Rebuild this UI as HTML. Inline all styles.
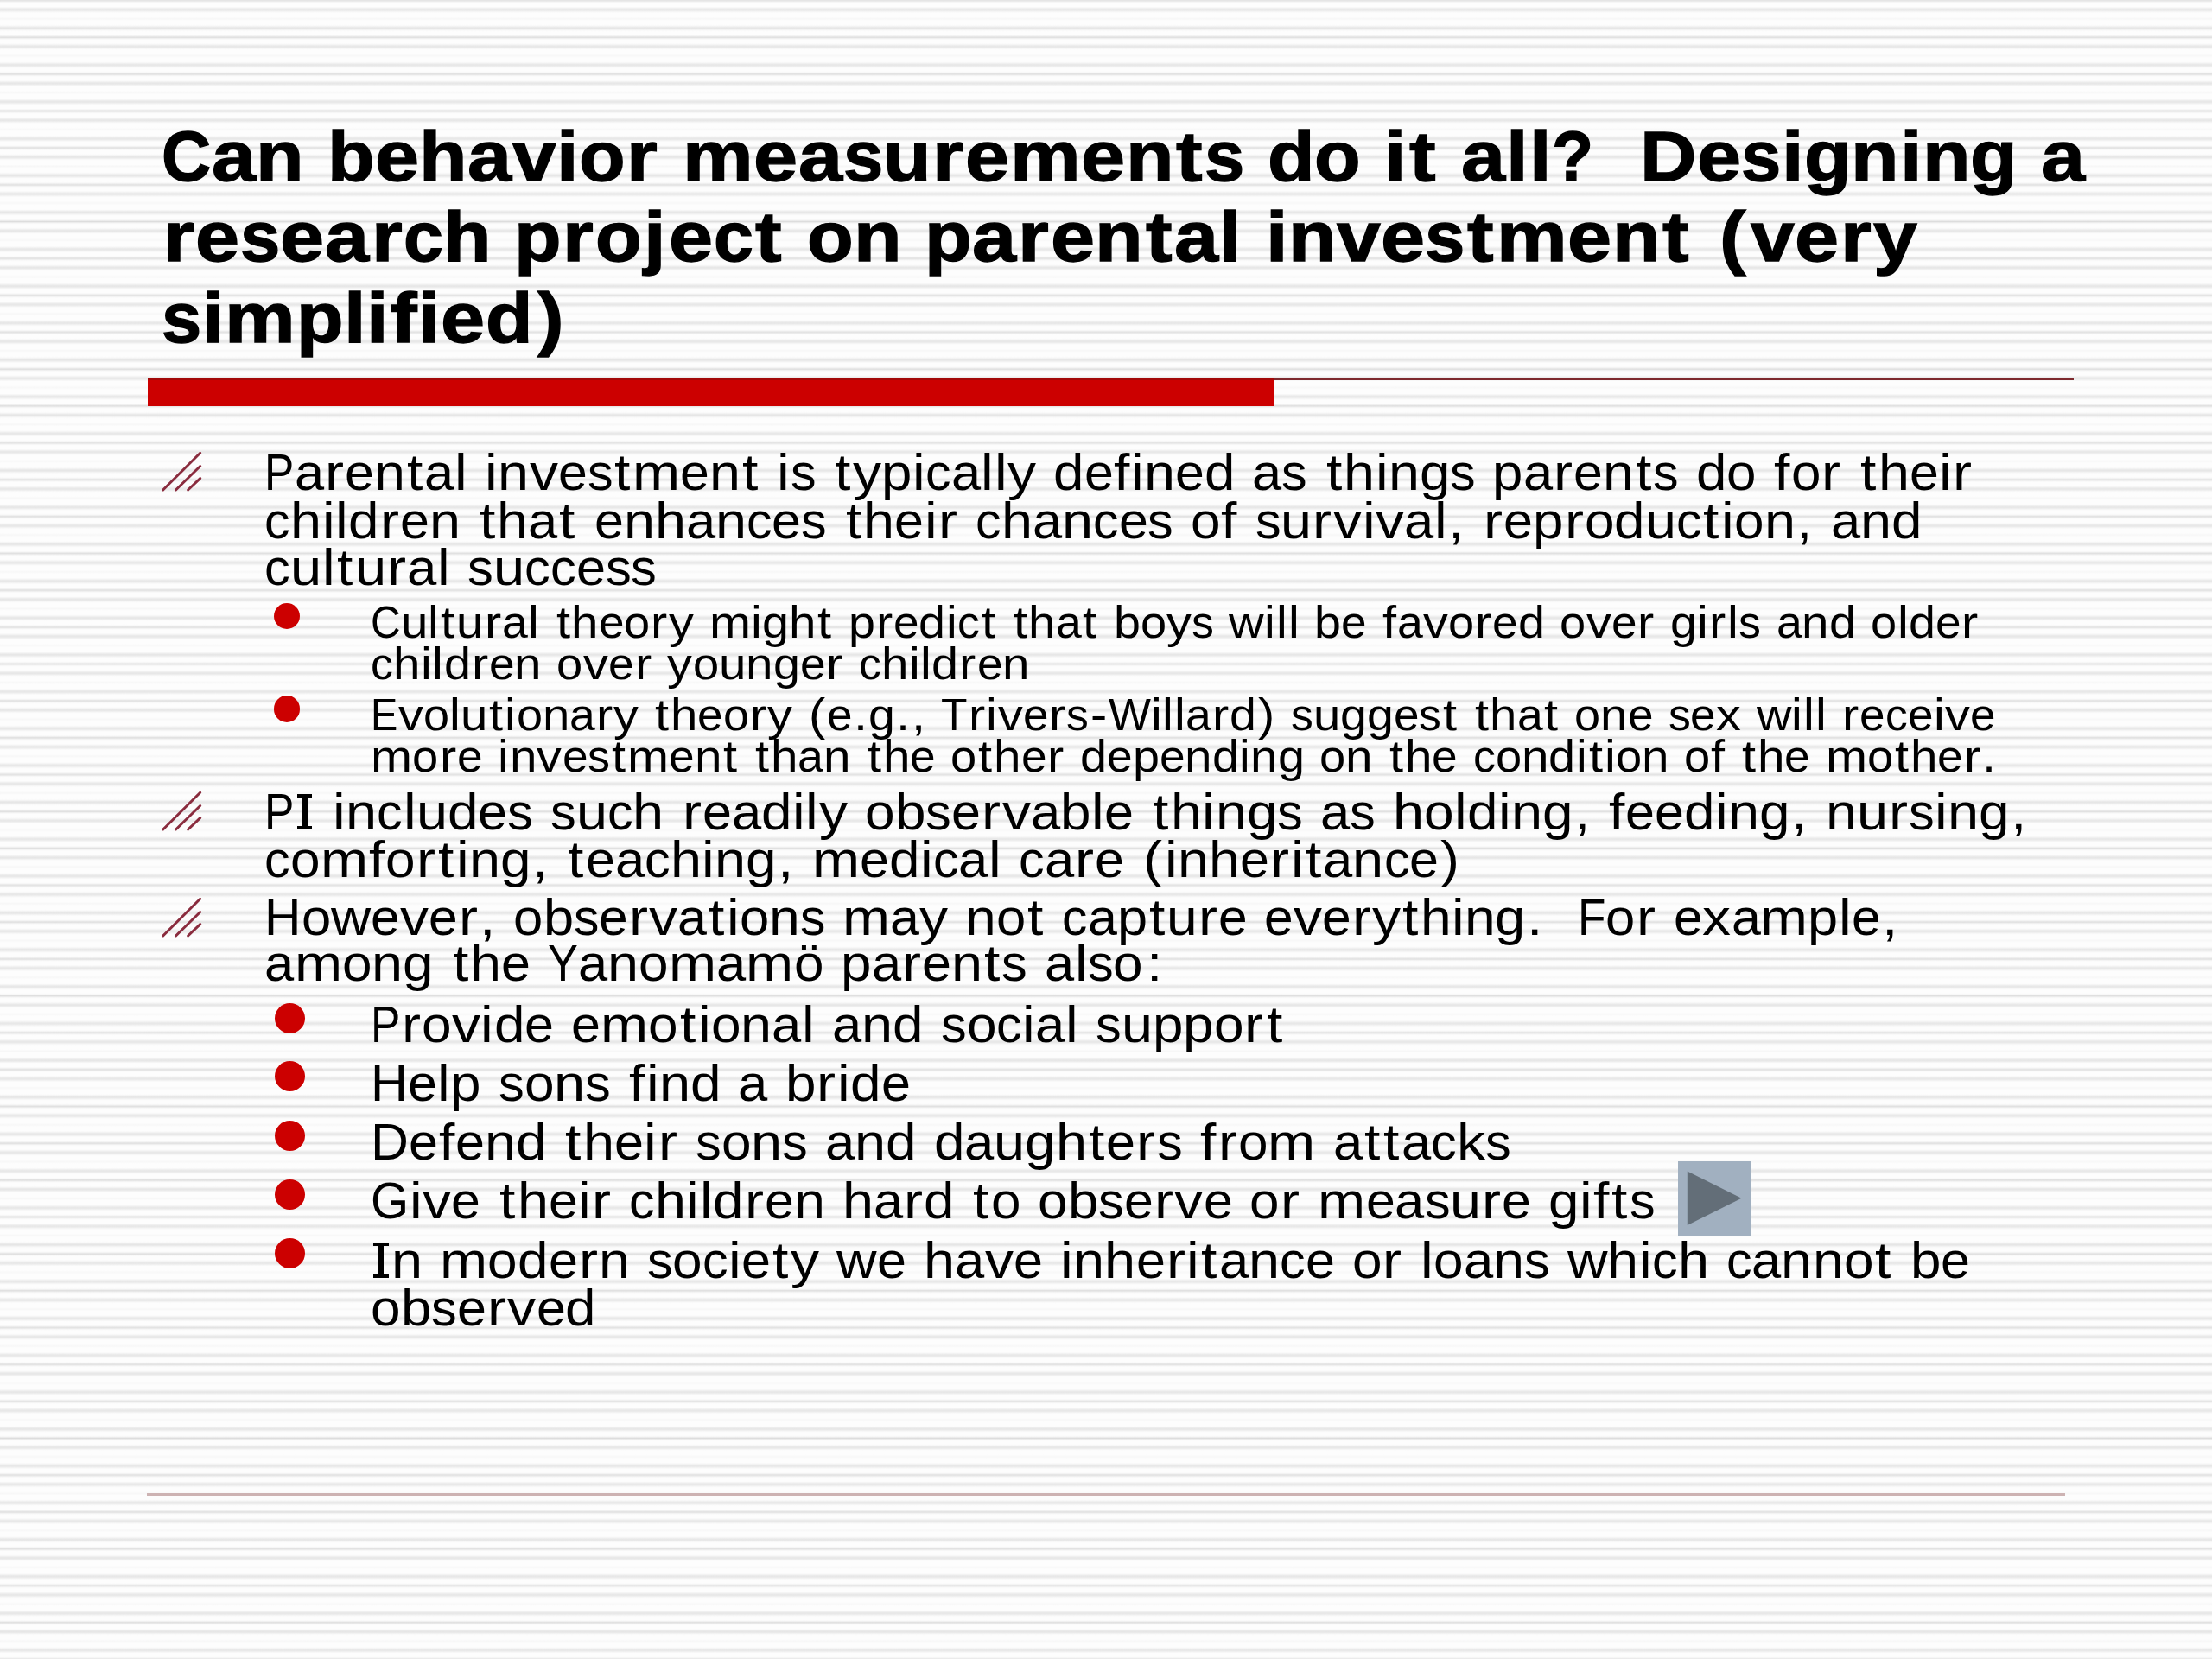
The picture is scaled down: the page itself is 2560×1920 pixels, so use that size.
<!DOCTYPE html>
<html><head><meta charset="utf-8"><style>
html,body{margin:0;padding:0}
body{width:2560px;height:1920px;position:relative;overflow:hidden;background-color:#fdfdfd;
background-image:repeating-linear-gradient(to bottom,#dcdcdc 0px,#ececec 1px,#f8f8f8 2px,#fdfdfd 3px,#fdfdfd 7.17px,#f3f3f3 8.67px,#eaeaea 9.67px,#e6e6e6 10.667px,#eaeaea 11.67px,#f3f3f3 12.67px,#fdfdfd 14.17px,#fdfdfd 19.33px,#f7f7f7 21.333px,#fdfdfd 23.33px,#fdfdfd 28.5px,#f3f3f3 30px,#eaeaea 31px,#e6e6e6 32px,#eaeaea 33px,#f3f3f3 34px,#fdfdfd 35.5px,#fdfdfd 39.667px,#f8f8f8 40.667px,#ececec 41.667px,#dcdcdc 42.667px);
background-position:0 0.5px;
font-family:"Liberation Sans",sans-serif;color:#000}
.t{position:absolute;white-space:pre;transform-origin:0 0;line-height:1}
.b{font-weight:bold;-webkit-text-stroke:1.3px #000}
.h{position:absolute;overflow:visible}
.d{position:absolute;border-radius:50%;background:#cc0000}
.r{position:absolute}
.k{background:#000}
i{font-style:normal}
</style></head><body><div id="w" style="position:absolute;left:0;top:0;width:2560px;height:1920px">
<div class="r" style="left:170.5px;top:437px;width:2229.5px;height:3px;background:#7e2a2e"></div>
<div class="r" style="left:170.7px;top:438px;width:1303.6px;height:32px;background:#cc0000;border-top:2px solid #a30808;box-sizing:border-box"></div>
<div class="r" style="left:170.4px;top:1728px;width:2219.8px;height:2.7px;background:#cdb3b3"></div>
<i class="t b" style="left:187.0px;top:139.9px;font-size:82px;transform:scaleX(0.967)">C</i>
<i class="t b" style="left:244.8px;top:139.9px;font-size:82px;transform:scaleX(1.120)">a</i>
<i class="t b" style="left:296.4px;top:139.9px;font-size:82px;transform:scaleX(1.109)">n</i>
<i class="t b" style="left:378.7px;top:139.9px;font-size:82px;transform:scaleX(1.089)">b</i>
<i class="t b" style="left:433.6px;top:139.9px;font-size:82px;transform:scaleX(1.120)">e</i>
<i class="t b" style="left:485.1px;top:139.9px;font-size:82px;transform:scaleX(1.109)">h</i>
<i class="t b" style="left:541.2px;top:139.9px;font-size:82px;transform:scaleX(1.120)">a</i>
<i class="t b" style="left:592.8px;top:139.9px;font-size:82px;transform:scaleX(1.112)">v</i>
<i class="t b" style="left:644.1px;top:139.9px;font-size:82px;transform:scaleX(1.120)">i</i>
<i class="t b" style="left:670.2px;top:139.9px;font-size:82px;transform:scaleX(1.070)">o</i>
<i class="t b" style="left:725.3px;top:139.9px;font-size:82px;transform:scaleX(1.120)">r</i>
<i class="t b" style="left:789.7px;top:139.9px;font-size:82px;transform:scaleX(1.120)">m</i>
<i class="t b" style="left:872.2px;top:139.9px;font-size:82px;transform:scaleX(1.120)">e</i>
<i class="t b" style="left:924.2px;top:139.9px;font-size:82px;transform:scaleX(1.120)">a</i>
<i class="t b" style="left:975.8px;top:139.9px;font-size:82px;transform:scaleX(1.015)">s</i>
<i class="t b" style="left:1022.1px;top:139.9px;font-size:82px;transform:scaleX(1.109)">u</i>
<i class="t b" style="left:1079.2px;top:139.9px;font-size:82px;transform:scaleX(1.120)">r</i>
<i class="t b" style="left:1116.8px;top:139.9px;font-size:82px;transform:scaleX(1.120)">e</i>
<i class="t b" style="left:1168.7px;top:139.9px;font-size:82px;transform:scaleX(1.120)">m</i>
<i class="t b" style="left:1251.2px;top:139.9px;font-size:82px;transform:scaleX(1.120)">e</i>
<i class="t b" style="left:1302.7px;top:139.9px;font-size:82px;transform:scaleX(1.109)">n</i>
<i class="t b" style="left:1360.7px;top:139.9px;font-size:82px;transform:scaleX(1.120)">t</i>
<i class="t b" style="left:1393.8px;top:139.9px;font-size:82px;transform:scaleX(1.015)">s</i>
<i class="t b" style="left:1466.8px;top:139.9px;font-size:82px;transform:scaleX(1.089)">d</i>
<i class="t b" style="left:1521.4px;top:139.9px;font-size:82px;transform:scaleX(1.070)">o</i>
<i class="t b" style="left:1602.3px;top:139.9px;font-size:82px;transform:scaleX(1.120)">i</i>
<i class="t b" style="left:1630.9px;top:139.9px;font-size:82px;transform:scaleX(1.120)">t</i>
<i class="t b" style="left:1691.2px;top:139.9px;font-size:82px;transform:scaleX(1.120)">a</i>
<i class="t b" style="left:1743.4px;top:139.9px;font-size:82px;transform:scaleX(1.120)">l</i>
<i class="t b" style="left:1770.1px;top:139.9px;font-size:82px;transform:scaleX(1.120)">l</i>
<i class="t b" style="left:1796.2px;top:139.9px;font-size:82px;transform:scaleX(0.961)">?</i>
<i class="t b" style="left:1897.7px;top:139.9px;font-size:82px;transform:scaleX(1.104)">D</i>
<i class="t b" style="left:1963.5px;top:139.9px;font-size:82px;transform:scaleX(1.120)">e</i>
<i class="t b" style="left:2014.9px;top:139.9px;font-size:82px;transform:scaleX(1.015)">s</i>
<i class="t b" style="left:2061.8px;top:139.9px;font-size:82px;transform:scaleX(1.120)">i</i>
<i class="t b" style="left:2087.9px;top:139.9px;font-size:82px;transform:scaleX(1.089)">g</i>
<i class="t b" style="left:2142.4px;top:139.9px;font-size:82px;transform:scaleX(1.109)">n</i>
<i class="t b" style="left:2198.6px;top:139.9px;font-size:82px;transform:scaleX(1.120)">i</i>
<i class="t b" style="left:2224.7px;top:139.9px;font-size:82px;transform:scaleX(1.109)">n</i>
<i class="t b" style="left:2280.3px;top:139.9px;font-size:82px;transform:scaleX(1.089)">g</i>
<i class="t b" style="left:2362.0px;top:139.9px;font-size:82px;transform:scaleX(1.120)">a</i>
<i class="t b" style="left:188.5px;top:233.0px;font-size:82px;transform:scaleX(1.120)">r</i>
<i class="t b" style="left:226.2px;top:233.0px;font-size:82px;transform:scaleX(1.120)">e</i>
<i class="t b" style="left:277.7px;top:233.0px;font-size:82px;transform:scaleX(1.016)">s</i>
<i class="t b" style="left:324.4px;top:233.0px;font-size:82px;transform:scaleX(1.120)">e</i>
<i class="t b" style="left:376.4px;top:233.0px;font-size:82px;transform:scaleX(1.120)">a</i>
<i class="t b" style="left:429.6px;top:233.0px;font-size:82px;transform:scaleX(1.120)">r</i>
<i class="t b" style="left:466.9px;top:233.0px;font-size:82px;transform:scaleX(1.007)">c</i>
<i class="t b" style="left:512.8px;top:233.0px;font-size:82px;transform:scaleX(1.110)">h</i>
<i class="t b" style="left:595.2px;top:233.0px;font-size:82px;transform:scaleX(1.090)">p</i>
<i class="t b" style="left:651.3px;top:233.0px;font-size:82px;transform:scaleX(1.120)">r</i>
<i class="t b" style="left:688.6px;top:233.0px;font-size:82px;transform:scaleX(1.071)">o</i>
<i class="t b" style="left:745.2px;top:233.0px;font-size:82px;transform:scaleX(1.120)">j</i>
<i class="t b" style="left:774.1px;top:233.0px;font-size:82px;transform:scaleX(1.120)">e</i>
<i class="t b" style="left:825.6px;top:233.0px;font-size:82px;transform:scaleX(1.007)">c</i>
<i class="t b" style="left:874.1px;top:233.0px;font-size:82px;transform:scaleX(1.120)">t</i>
<i class="t b" style="left:933.9px;top:233.0px;font-size:82px;transform:scaleX(1.071)">o</i>
<i class="t b" style="left:987.5px;top:233.0px;font-size:82px;transform:scaleX(1.110)">n</i>
<i class="t b" style="left:1069.9px;top:233.0px;font-size:82px;transform:scaleX(1.090)">p</i>
<i class="t b" style="left:1125.0px;top:233.0px;font-size:82px;transform:scaleX(1.120)">a</i>
<i class="t b" style="left:1178.2px;top:233.0px;font-size:82px;transform:scaleX(1.120)">r</i>
<i class="t b" style="left:1215.9px;top:233.0px;font-size:82px;transform:scaleX(1.120)">e</i>
<i class="t b" style="left:1267.4px;top:233.0px;font-size:82px;transform:scaleX(1.110)">n</i>
<i class="t b" style="left:1325.5px;top:233.0px;font-size:82px;transform:scaleX(1.120)">t</i>
<i class="t b" style="left:1359.1px;top:233.0px;font-size:82px;transform:scaleX(1.120)">a</i>
<i class="t b" style="left:1411.4px;top:233.0px;font-size:82px;transform:scaleX(1.120)">l</i>
<i class="t b" style="left:1464.8px;top:233.0px;font-size:82px;transform:scaleX(1.120)">i</i>
<i class="t b" style="left:1490.9px;top:233.0px;font-size:82px;transform:scaleX(1.110)">n</i>
<i class="t b" style="left:1546.5px;top:233.0px;font-size:82px;transform:scaleX(1.113)">v</i>
<i class="t b" style="left:1597.7px;top:233.0px;font-size:82px;transform:scaleX(1.120)">e</i>
<i class="t b" style="left:1649.2px;top:233.0px;font-size:82px;transform:scaleX(1.016)">s</i>
<i class="t b" style="left:1698.0px;top:233.0px;font-size:82px;transform:scaleX(1.120)">t</i>
<i class="t b" style="left:1731.6px;top:233.0px;font-size:82px;transform:scaleX(1.120)">m</i>
<i class="t b" style="left:1814.2px;top:233.0px;font-size:82px;transform:scaleX(1.120)">e</i>
<i class="t b" style="left:1865.7px;top:233.0px;font-size:82px;transform:scaleX(1.110)">n</i>
<i class="t b" style="left:1923.8px;top:233.0px;font-size:82px;transform:scaleX(1.120)">t</i>
<i class="t b" style="left:1989.5px;top:233.0px;font-size:82px;transform:scaleX(1.120)">(</i>
<i class="t b" style="left:2026.0px;top:233.0px;font-size:82px;transform:scaleX(1.113)">v</i>
<i class="t b" style="left:2077.2px;top:233.0px;font-size:82px;transform:scaleX(1.120)">e</i>
<i class="t b" style="left:2130.2px;top:233.0px;font-size:82px;transform:scaleX(1.120)">r</i>
<i class="t b" style="left:2167.5px;top:233.0px;font-size:82px;transform:scaleX(1.115)">y</i>
<i class="t b" style="left:187.0px;top:327.0px;font-size:82px;transform:scaleX(1.014)">s</i>
<i class="t b" style="left:233.8px;top:327.0px;font-size:82px;transform:scaleX(1.120)">i</i>
<i class="t b" style="left:260.4px;top:327.0px;font-size:82px;transform:scaleX(1.120)">m</i>
<i class="t b" style="left:342.5px;top:327.0px;font-size:82px;transform:scaleX(1.089)">p</i>
<i class="t b" style="left:397.6px;top:327.0px;font-size:82px;transform:scaleX(1.120)">l</i>
<i class="t b" style="left:424.2px;top:327.0px;font-size:82px;transform:scaleX(1.120)">i</i>
<i class="t b" style="left:451.5px;top:327.0px;font-size:82px;transform:scaleX(1.120)">f</i>
<i class="t b" style="left:483.8px;top:327.0px;font-size:82px;transform:scaleX(1.120)">i</i>
<i class="t b" style="left:510.3px;top:327.0px;font-size:82px;transform:scaleX(1.120)">e</i>
<i class="t b" style="left:561.7px;top:327.0px;font-size:82px;transform:scaleX(1.089)">d</i>
<i class="t b" style="left:622.1px;top:327.0px;font-size:82px;transform:scaleX(1.120)">)</i>
<i class="t" style="left:306.4px;top:518.0px;font-size:59px;transform:scaleX(0.870)">P</i>
<i class="t" style="left:340.6px;top:518.0px;font-size:59px;transform:scaleX(1.040)">a</i>
<i class="t" style="left:375.9px;top:518.0px;font-size:59px;transform:scaleX(1.120)">r</i>
<i class="t" style="left:399.0px;top:518.0px;font-size:59px;transform:scaleX(1.031)">e</i>
<i class="t" style="left:432.8px;top:518.0px;font-size:59px;transform:scaleX(1.095)">n</i>
<i class="t" style="left:470.7px;top:518.0px;font-size:59px;transform:scaleX(1.120)">t</i>
<i class="t" style="left:491.1px;top:518.0px;font-size:59px;transform:scaleX(1.040)">a</i>
<i class="t" style="left:525.6px;top:518.0px;font-size:59px;transform:scaleX(1.120)">l</i>
<i class="t" style="left:561.2px;top:518.0px;font-size:59px;transform:scaleX(1.120)">i</i>
<i class="t" style="left:576.3px;top:518.0px;font-size:59px;transform:scaleX(1.095)">n</i>
<i class="t" style="left:612.5px;top:518.0px;font-size:59px;transform:scaleX(1.120)">v</i>
<i class="t" style="left:645.8px;top:518.0px;font-size:59px;transform:scaleX(1.031)">e</i>
<i class="t" style="left:679.6px;top:518.0px;font-size:59px;transform:scaleX(1.002)">s</i>
<i class="t" style="left:711.2px;top:518.0px;font-size:59px;transform:scaleX(1.120)">t</i>
<i class="t" style="left:731.7px;top:518.0px;font-size:59px;transform:scaleX(1.120)">m</i>
<i class="t" style="left:786.8px;top:518.0px;font-size:59px;transform:scaleX(1.031)">e</i>
<i class="t" style="left:820.6px;top:518.0px;font-size:59px;transform:scaleX(1.095)">n</i>
<i class="t" style="left:858.6px;top:518.0px;font-size:59px;transform:scaleX(1.120)">t</i>
<i class="t" style="left:899.3px;top:518.0px;font-size:59px;transform:scaleX(1.120)">i</i>
<i class="t" style="left:914.5px;top:518.0px;font-size:59px;transform:scaleX(1.002)">s</i>
<i class="t" style="left:966.0px;top:518.0px;font-size:59px;transform:scaleX(1.120)">t</i>
<i class="t" style="left:986.7px;top:518.0px;font-size:59px;transform:scaleX(1.120)">y</i>
<i class="t" style="left:1020.0px;top:518.0px;font-size:59px;transform:scaleX(1.078)">p</i>
<i class="t" style="left:1055.8px;top:518.0px;font-size:59px;transform:scaleX(1.120)">i</i>
<i class="t" style="left:1070.9px;top:518.0px;font-size:59px;transform:scaleX(1.002)">c</i>
<i class="t" style="left:1100.5px;top:518.0px;font-size:59px;transform:scaleX(1.040)">a</i>
<i class="t" style="left:1135.0px;top:518.0px;font-size:59px;transform:scaleX(1.120)">l</i>
<i class="t" style="left:1150.6px;top:518.0px;font-size:59px;transform:scaleX(1.120)">l</i>
<i class="t" style="left:1166.0px;top:518.0px;font-size:59px;transform:scaleX(1.120)">y</i>
<i class="t" style="left:1219.3px;top:518.0px;font-size:59px;transform:scaleX(1.078)">d</i>
<i class="t" style="left:1254.6px;top:518.0px;font-size:59px;transform:scaleX(1.031)">e</i>
<i class="t" style="left:1289.3px;top:518.0px;font-size:59px;transform:scaleX(1.120)">f</i>
<i class="t" style="left:1308.9px;top:518.0px;font-size:59px;transform:scaleX(1.120)">i</i>
<i class="t" style="left:1324.0px;top:518.0px;font-size:59px;transform:scaleX(1.095)">n</i>
<i class="t" style="left:1359.9px;top:518.0px;font-size:59px;transform:scaleX(1.031)">e</i>
<i class="t" style="left:1393.7px;top:518.0px;font-size:59px;transform:scaleX(1.078)">d</i>
<i class="t" style="left:1449.1px;top:518.0px;font-size:59px;transform:scaleX(1.040)">a</i>
<i class="t" style="left:1483.2px;top:518.0px;font-size:59px;transform:scaleX(1.002)">s</i>
<i class="t" style="left:1534.7px;top:518.0px;font-size:59px;transform:scaleX(1.120)">t</i>
<i class="t" style="left:1555.1px;top:518.0px;font-size:59px;transform:scaleX(1.095)">h</i>
<i class="t" style="left:1591.5px;top:518.0px;font-size:59px;transform:scaleX(1.120)">i</i>
<i class="t" style="left:1606.6px;top:518.0px;font-size:59px;transform:scaleX(1.095)">n</i>
<i class="t" style="left:1642.5px;top:518.0px;font-size:59px;transform:scaleX(1.078)">g</i>
<i class="t" style="left:1677.9px;top:518.0px;font-size:59px;transform:scaleX(1.002)">s</i>
<i class="t" style="left:1727.4px;top:518.0px;font-size:59px;transform:scaleX(1.078)">p</i>
<i class="t" style="left:1762.8px;top:518.0px;font-size:59px;transform:scaleX(1.040)">a</i>
<i class="t" style="left:1798.0px;top:518.0px;font-size:59px;transform:scaleX(1.120)">r</i>
<i class="t" style="left:1821.1px;top:518.0px;font-size:59px;transform:scaleX(1.031)">e</i>
<i class="t" style="left:1855.0px;top:518.0px;font-size:59px;transform:scaleX(1.095)">n</i>
<i class="t" style="left:1892.9px;top:518.0px;font-size:59px;transform:scaleX(1.120)">t</i>
<i class="t" style="left:1913.3px;top:518.0px;font-size:59px;transform:scaleX(1.002)">s</i>
<i class="t" style="left:1962.8px;top:518.0px;font-size:59px;transform:scaleX(1.078)">d</i>
<i class="t" style="left:1998.2px;top:518.0px;font-size:59px;transform:scaleX(1.050)">o</i>
<i class="t" style="left:2053.4px;top:518.0px;font-size:59px;transform:scaleX(1.120)">f</i>
<i class="t" style="left:2072.6px;top:518.0px;font-size:59px;transform:scaleX(1.050)">o</i>
<i class="t" style="left:2108.2px;top:518.0px;font-size:59px;transform:scaleX(1.120)">r</i>
<i class="t" style="left:2153.3px;top:518.0px;font-size:59px;transform:scaleX(1.120)">t</i>
<i class="t" style="left:2173.6px;top:518.0px;font-size:59px;transform:scaleX(1.095)">h</i>
<i class="t" style="left:2209.5px;top:518.0px;font-size:59px;transform:scaleX(1.031)">e</i>
<i class="t" style="left:2243.8px;top:518.0px;font-size:59px;transform:scaleX(1.120)">i</i>
<i class="t" style="left:2260.0px;top:518.0px;font-size:59px;transform:scaleX(1.120)">r</i>
<i class="t" style="left:306.4px;top:573.6px;font-size:59px;transform:scaleX(1.004)">c</i>
<i class="t" style="left:336.0px;top:573.6px;font-size:59px;transform:scaleX(1.097)">h</i>
<i class="t" style="left:372.5px;top:573.6px;font-size:59px;transform:scaleX(1.120)">i</i>
<i class="t" style="left:388.0px;top:573.6px;font-size:59px;transform:scaleX(1.120)">l</i>
<i class="t" style="left:403.2px;top:573.6px;font-size:59px;transform:scaleX(1.080)">d</i>
<i class="t" style="left:439.7px;top:573.6px;font-size:59px;transform:scaleX(1.120)">r</i>
<i class="t" style="left:462.9px;top:573.6px;font-size:59px;transform:scaleX(1.033)">e</i>
<i class="t" style="left:496.8px;top:573.6px;font-size:59px;transform:scaleX(1.097)">n</i>
<i class="t" style="left:554.8px;top:573.6px;font-size:59px;transform:scaleX(1.120)">t</i>
<i class="t" style="left:575.2px;top:573.6px;font-size:59px;transform:scaleX(1.097)">h</i>
<i class="t" style="left:611.2px;top:573.6px;font-size:59px;transform:scaleX(1.041)">a</i>
<i class="t" style="left:647.4px;top:573.6px;font-size:59px;transform:scaleX(1.120)">t</i>
<i class="t" style="left:687.8px;top:573.6px;font-size:59px;transform:scaleX(1.033)">e</i>
<i class="t" style="left:721.7px;top:573.6px;font-size:59px;transform:scaleX(1.097)">n</i>
<i class="t" style="left:757.7px;top:573.6px;font-size:59px;transform:scaleX(1.097)">h</i>
<i class="t" style="left:793.6px;top:573.6px;font-size:59px;transform:scaleX(1.041)">a</i>
<i class="t" style="left:827.8px;top:573.6px;font-size:59px;transform:scaleX(1.097)">n</i>
<i class="t" style="left:863.8px;top:573.6px;font-size:59px;transform:scaleX(1.004)">c</i>
<i class="t" style="left:893.4px;top:573.6px;font-size:59px;transform:scaleX(1.033)">e</i>
<i class="t" style="left:927.3px;top:573.6px;font-size:59px;transform:scaleX(1.004)">s</i>
<i class="t" style="left:979.0px;top:573.6px;font-size:59px;transform:scaleX(1.120)">t</i>
<i class="t" style="left:999.4px;top:573.6px;font-size:59px;transform:scaleX(1.097)">h</i>
<i class="t" style="left:1035.4px;top:573.6px;font-size:59px;transform:scaleX(1.033)">e</i>
<i class="t" style="left:1069.7px;top:573.6px;font-size:59px;transform:scaleX(1.120)">i</i>
<i class="t" style="left:1086.0px;top:573.6px;font-size:59px;transform:scaleX(1.120)">r</i>
<i class="t" style="left:1129.1px;top:573.6px;font-size:59px;transform:scaleX(1.004)">c</i>
<i class="t" style="left:1158.8px;top:573.6px;font-size:59px;transform:scaleX(1.097)">h</i>
<i class="t" style="left:1194.7px;top:573.6px;font-size:59px;transform:scaleX(1.041)">a</i>
<i class="t" style="left:1228.9px;top:573.6px;font-size:59px;transform:scaleX(1.097)">n</i>
<i class="t" style="left:1264.9px;top:573.6px;font-size:59px;transform:scaleX(1.004)">c</i>
<i class="t" style="left:1294.5px;top:573.6px;font-size:59px;transform:scaleX(1.033)">e</i>
<i class="t" style="left:1328.4px;top:573.6px;font-size:59px;transform:scaleX(1.004)">s</i>
<i class="t" style="left:1378.1px;top:573.6px;font-size:59px;transform:scaleX(1.052)">o</i>
<i class="t" style="left:1413.4px;top:573.6px;font-size:59px;transform:scaleX(1.120)">f</i>
<i class="t" style="left:1452.6px;top:573.6px;font-size:59px;transform:scaleX(1.004)">s</i>
<i class="t" style="left:1482.2px;top:573.6px;font-size:59px;transform:scaleX(1.097)">u</i>
<i class="t" style="left:1519.4px;top:573.6px;font-size:59px;transform:scaleX(1.120)">r</i>
<i class="t" style="left:1542.8px;top:573.6px;font-size:59px;transform:scaleX(1.120)">v</i>
<i class="t" style="left:1576.6px;top:573.6px;font-size:59px;transform:scaleX(1.120)">i</i>
<i class="t" style="left:1592.1px;top:573.6px;font-size:59px;transform:scaleX(1.120)">v</i>
<i class="t" style="left:1625.4px;top:573.6px;font-size:59px;transform:scaleX(1.041)">a</i>
<i class="t" style="left:1660.0px;top:573.6px;font-size:59px;transform:scaleX(1.120)">l</i>
<i class="t" style="left:1676.3px;top:573.6px;font-size:59px;transform:scaleX(1.120)">,</i>
<i class="t" style="left:1717.0px;top:573.6px;font-size:59px;transform:scaleX(1.120)">r</i>
<i class="t" style="left:1740.2px;top:573.6px;font-size:59px;transform:scaleX(1.033)">e</i>
<i class="t" style="left:1774.0px;top:573.6px;font-size:59px;transform:scaleX(1.080)">p</i>
<i class="t" style="left:1810.6px;top:573.6px;font-size:59px;transform:scaleX(1.120)">r</i>
<i class="t" style="left:1833.8px;top:573.6px;font-size:59px;transform:scaleX(1.052)">o</i>
<i class="t" style="left:1868.3px;top:573.6px;font-size:59px;transform:scaleX(1.080)">d</i>
<i class="t" style="left:1903.7px;top:573.6px;font-size:59px;transform:scaleX(1.097)">u</i>
<i class="t" style="left:1939.7px;top:573.6px;font-size:59px;transform:scaleX(1.004)">c</i>
<i class="t" style="left:1971.3px;top:573.6px;font-size:59px;transform:scaleX(1.120)">t</i>
<i class="t" style="left:1992.2px;top:573.6px;font-size:59px;transform:scaleX(1.120)">i</i>
<i class="t" style="left:2007.3px;top:573.6px;font-size:59px;transform:scaleX(1.052)">o</i>
<i class="t" style="left:2041.8px;top:573.6px;font-size:59px;transform:scaleX(1.097)">n</i>
<i class="t" style="left:2079.0px;top:573.6px;font-size:59px;transform:scaleX(1.120)">,</i>
<i class="t" style="left:2118.5px;top:573.6px;font-size:59px;transform:scaleX(1.041)">a</i>
<i class="t" style="left:2152.7px;top:573.6px;font-size:59px;transform:scaleX(1.097)">n</i>
<i class="t" style="left:2188.7px;top:573.6px;font-size:59px;transform:scaleX(1.080)">d</i>
<i class="t" style="left:306.4px;top:628.0px;font-size:59px;transform:scaleX(1.009)">c</i>
<i class="t" style="left:336.2px;top:628.0px;font-size:59px;transform:scaleX(1.102)">u</i>
<i class="t" style="left:372.8px;top:628.0px;font-size:59px;transform:scaleX(1.120)">l</i>
<i class="t" style="left:390.0px;top:628.0px;font-size:59px;transform:scaleX(1.120)">t</i>
<i class="t" style="left:410.5px;top:628.0px;font-size:59px;transform:scaleX(1.102)">u</i>
<i class="t" style="left:447.8px;top:628.0px;font-size:59px;transform:scaleX(1.120)">r</i>
<i class="t" style="left:471.0px;top:628.0px;font-size:59px;transform:scaleX(1.046)">a</i>
<i class="t" style="left:505.8px;top:628.0px;font-size:59px;transform:scaleX(1.120)">l</i>
<i class="t" style="left:541.1px;top:628.0px;font-size:59px;transform:scaleX(1.009)">s</i>
<i class="t" style="left:570.9px;top:628.0px;font-size:59px;transform:scaleX(1.102)">u</i>
<i class="t" style="left:607.0px;top:628.0px;font-size:59px;transform:scaleX(1.009)">c</i>
<i class="t" style="left:636.8px;top:628.0px;font-size:59px;transform:scaleX(1.009)">c</i>
<i class="t" style="left:666.5px;top:628.0px;font-size:59px;transform:scaleX(1.037)">e</i>
<i class="t" style="left:700.6px;top:628.0px;font-size:59px;transform:scaleX(1.009)">s</i>
<i class="t" style="left:730.3px;top:628.0px;font-size:59px;transform:scaleX(1.009)">s</i>
<i class="t" style="left:429.0px;top:695.1px;font-size:51.5px;transform:scaleX(0.931)">C</i>
<i class="t" style="left:463.6px;top:695.1px;font-size:51.5px;transform:scaleX(1.097)">u</i>
<i class="t" style="left:495.4px;top:695.1px;font-size:51.5px;transform:scaleX(1.120)">l</i>
<i class="t" style="left:510.4px;top:695.1px;font-size:51.5px;transform:scaleX(1.120)">t</i>
<i class="t" style="left:528.2px;top:695.1px;font-size:51.5px;transform:scaleX(1.097)">u</i>
<i class="t" style="left:560.6px;top:695.1px;font-size:51.5px;transform:scaleX(1.120)">r</i>
<i class="t" style="left:580.8px;top:695.1px;font-size:51.5px;transform:scaleX(1.041)">a</i>
<i class="t" style="left:611.0px;top:695.1px;font-size:51.5px;transform:scaleX(1.120)">l</i>
<i class="t" style="left:643.5px;top:695.1px;font-size:51.5px;transform:scaleX(1.120)">t</i>
<i class="t" style="left:661.3px;top:695.1px;font-size:51.5px;transform:scaleX(1.097)">h</i>
<i class="t" style="left:692.7px;top:695.1px;font-size:51.5px;transform:scaleX(1.033)">e</i>
<i class="t" style="left:722.3px;top:695.1px;font-size:51.5px;transform:scaleX(1.052)">o</i>
<i class="t" style="left:753.4px;top:695.1px;font-size:51.5px;transform:scaleX(1.120)">r</i>
<i class="t" style="left:773.8px;top:695.1px;font-size:51.5px;transform:scaleX(1.120)">y</i>
<i class="t" style="left:820.5px;top:695.1px;font-size:51.5px;transform:scaleX(1.120)">m</i>
<i class="t" style="left:869.1px;top:695.1px;font-size:51.5px;transform:scaleX(1.120)">i</i>
<i class="t" style="left:882.3px;top:695.1px;font-size:51.5px;transform:scaleX(1.080)">g</i>
<i class="t" style="left:913.2px;top:695.1px;font-size:51.5px;transform:scaleX(1.097)">h</i>
<i class="t" style="left:946.4px;top:695.1px;font-size:51.5px;transform:scaleX(1.120)">t</i>
<i class="t" style="left:981.7px;top:695.1px;font-size:51.5px;transform:scaleX(1.080)">p</i>
<i class="t" style="left:1013.6px;top:695.1px;font-size:51.5px;transform:scaleX(1.120)">r</i>
<i class="t" style="left:1033.8px;top:695.1px;font-size:51.5px;transform:scaleX(1.033)">e</i>
<i class="t" style="left:1063.4px;top:695.1px;font-size:51.5px;transform:scaleX(1.080)">d</i>
<i class="t" style="left:1094.7px;top:695.1px;font-size:51.5px;transform:scaleX(1.120)">i</i>
<i class="t" style="left:1107.9px;top:695.1px;font-size:51.5px;transform:scaleX(1.004)">c</i>
<i class="t" style="left:1135.5px;top:695.1px;font-size:51.5px;transform:scaleX(1.120)">t</i>
<i class="t" style="left:1172.5px;top:695.1px;font-size:51.5px;transform:scaleX(1.120)">t</i>
<i class="t" style="left:1190.3px;top:695.1px;font-size:51.5px;transform:scaleX(1.097)">h</i>
<i class="t" style="left:1221.7px;top:695.1px;font-size:51.5px;transform:scaleX(1.041)">a</i>
<i class="t" style="left:1253.3px;top:695.1px;font-size:51.5px;transform:scaleX(1.120)">t</i>
<i class="t" style="left:1288.6px;top:695.1px;font-size:51.5px;transform:scaleX(1.080)">b</i>
<i class="t" style="left:1319.5px;top:695.1px;font-size:51.5px;transform:scaleX(1.052)">o</i>
<i class="t" style="left:1349.9px;top:695.1px;font-size:51.5px;transform:scaleX(1.120)">y</i>
<i class="t" style="left:1379.0px;top:695.1px;font-size:51.5px;transform:scaleX(1.004)">s</i>
<i class="t" style="left:1422.3px;top:695.1px;font-size:51.5px;transform:scaleX(1.092)">w</i>
<i class="t" style="left:1463.3px;top:695.1px;font-size:51.5px;transform:scaleX(1.120)">i</i>
<i class="t" style="left:1476.9px;top:695.1px;font-size:51.5px;transform:scaleX(1.120)">l</i>
<i class="t" style="left:1490.5px;top:695.1px;font-size:51.5px;transform:scaleX(1.120)">l</i>
<i class="t" style="left:1521.2px;top:695.1px;font-size:51.5px;transform:scaleX(1.080)">b</i>
<i class="t" style="left:1552.1px;top:695.1px;font-size:51.5px;transform:scaleX(1.033)">e</i>
<i class="t" style="left:1599.9px;top:695.1px;font-size:51.5px;transform:scaleX(1.120)">f</i>
<i class="t" style="left:1616.6px;top:695.1px;font-size:51.5px;transform:scaleX(1.041)">a</i>
<i class="t" style="left:1646.7px;top:695.1px;font-size:51.5px;transform:scaleX(1.120)">v</i>
<i class="t" style="left:1675.8px;top:695.1px;font-size:51.5px;transform:scaleX(1.052)">o</i>
<i class="t" style="left:1707.0px;top:695.1px;font-size:51.5px;transform:scaleX(1.120)">r</i>
<i class="t" style="left:1727.2px;top:695.1px;font-size:51.5px;transform:scaleX(1.033)">e</i>
<i class="t" style="left:1756.7px;top:695.1px;font-size:51.5px;transform:scaleX(1.080)">d</i>
<i class="t" style="left:1805.1px;top:695.1px;font-size:51.5px;transform:scaleX(1.052)">o</i>
<i class="t" style="left:1835.5px;top:695.1px;font-size:51.5px;transform:scaleX(1.120)">v</i>
<i class="t" style="left:1864.6px;top:695.1px;font-size:51.5px;transform:scaleX(1.033)">e</i>
<i class="t" style="left:1895.2px;top:695.1px;font-size:51.5px;transform:scaleX(1.120)">r</i>
<i class="t" style="left:1932.9px;top:695.1px;font-size:51.5px;transform:scaleX(1.080)">g</i>
<i class="t" style="left:1964.2px;top:695.1px;font-size:51.5px;transform:scaleX(1.120)">i</i>
<i class="t" style="left:1978.4px;top:695.1px;font-size:51.5px;transform:scaleX(1.120)">r</i>
<i class="t" style="left:1999.0px;top:695.1px;font-size:51.5px;transform:scaleX(1.120)">l</i>
<i class="t" style="left:2012.2px;top:695.1px;font-size:51.5px;transform:scaleX(1.004)">s</i>
<i class="t" style="left:2055.5px;top:695.1px;font-size:51.5px;transform:scaleX(1.041)">a</i>
<i class="t" style="left:2085.3px;top:695.1px;font-size:51.5px;transform:scaleX(1.097)">n</i>
<i class="t" style="left:2116.8px;top:695.1px;font-size:51.5px;transform:scaleX(1.080)">d</i>
<i class="t" style="left:2165.1px;top:695.1px;font-size:51.5px;transform:scaleX(1.052)">o</i>
<i class="t" style="left:2195.7px;top:695.1px;font-size:51.5px;transform:scaleX(1.120)">l</i>
<i class="t" style="left:2208.9px;top:695.1px;font-size:51.5px;transform:scaleX(1.080)">d</i>
<i class="t" style="left:2239.8px;top:695.1px;font-size:51.5px;transform:scaleX(1.033)">e</i>
<i class="t" style="left:2270.4px;top:695.1px;font-size:51.5px;transform:scaleX(1.120)">r</i>
<i class="t" style="left:429.0px;top:743.0px;font-size:51.5px;transform:scaleX(1.005)">c</i>
<i class="t" style="left:454.9px;top:743.0px;font-size:51.5px;transform:scaleX(1.098)">h</i>
<i class="t" style="left:486.7px;top:743.0px;font-size:51.5px;transform:scaleX(1.120)">i</i>
<i class="t" style="left:500.3px;top:743.0px;font-size:51.5px;transform:scaleX(1.120)">l</i>
<i class="t" style="left:513.6px;top:743.0px;font-size:51.5px;transform:scaleX(1.081)">d</i>
<i class="t" style="left:545.5px;top:743.0px;font-size:51.5px;transform:scaleX(1.120)">r</i>
<i class="t" style="left:565.7px;top:743.0px;font-size:51.5px;transform:scaleX(1.034)">e</i>
<i class="t" style="left:595.3px;top:743.0px;font-size:51.5px;transform:scaleX(1.098)">n</i>
<i class="t" style="left:644.3px;top:743.0px;font-size:51.5px;transform:scaleX(1.053)">o</i>
<i class="t" style="left:674.7px;top:743.0px;font-size:51.5px;transform:scaleX(1.120)">v</i>
<i class="t" style="left:703.8px;top:743.0px;font-size:51.5px;transform:scaleX(1.034)">e</i>
<i class="t" style="left:734.5px;top:743.0px;font-size:51.5px;transform:scaleX(1.120)">r</i>
<i class="t" style="left:772.4px;top:743.0px;font-size:51.5px;transform:scaleX(1.120)">y</i>
<i class="t" style="left:801.6px;top:743.0px;font-size:51.5px;transform:scaleX(1.053)">o</i>
<i class="t" style="left:831.7px;top:743.0px;font-size:51.5px;transform:scaleX(1.098)">u</i>
<i class="t" style="left:863.2px;top:743.0px;font-size:51.5px;transform:scaleX(1.098)">n</i>
<i class="t" style="left:894.6px;top:743.0px;font-size:51.5px;transform:scaleX(1.081)">g</i>
<i class="t" style="left:925.6px;top:743.0px;font-size:51.5px;transform:scaleX(1.034)">e</i>
<i class="t" style="left:956.2px;top:743.0px;font-size:51.5px;transform:scaleX(1.120)">r</i>
<i class="t" style="left:993.9px;top:743.0px;font-size:51.5px;transform:scaleX(1.005)">c</i>
<i class="t" style="left:1019.8px;top:743.0px;font-size:51.5px;transform:scaleX(1.098)">h</i>
<i class="t" style="left:1051.6px;top:743.0px;font-size:51.5px;transform:scaleX(1.120)">i</i>
<i class="t" style="left:1065.2px;top:743.0px;font-size:51.5px;transform:scaleX(1.120)">l</i>
<i class="t" style="left:1078.4px;top:743.0px;font-size:51.5px;transform:scaleX(1.081)">d</i>
<i class="t" style="left:1110.4px;top:743.0px;font-size:51.5px;transform:scaleX(1.120)">r</i>
<i class="t" style="left:1130.6px;top:743.0px;font-size:51.5px;transform:scaleX(1.034)">e</i>
<i class="t" style="left:1160.2px;top:743.0px;font-size:51.5px;transform:scaleX(1.098)">n</i>
<i class="t" style="left:429.0px;top:802.4px;font-size:51.5px;transform:scaleX(0.911)">E</i>
<i class="t" style="left:460.5px;top:802.4px;font-size:51.5px;transform:scaleX(1.120)">v</i>
<i class="t" style="left:489.6px;top:802.4px;font-size:51.5px;transform:scaleX(1.049)">o</i>
<i class="t" style="left:520.0px;top:802.4px;font-size:51.5px;transform:scaleX(1.120)">l</i>
<i class="t" style="left:533.2px;top:802.4px;font-size:51.5px;transform:scaleX(1.094)">u</i>
<i class="t" style="left:566.3px;top:802.4px;font-size:51.5px;transform:scaleX(1.120)">t</i>
<i class="t" style="left:584.4px;top:802.4px;font-size:51.5px;transform:scaleX(1.120)">i</i>
<i class="t" style="left:597.6px;top:802.4px;font-size:51.5px;transform:scaleX(1.049)">o</i>
<i class="t" style="left:627.6px;top:802.4px;font-size:51.5px;transform:scaleX(1.094)">n</i>
<i class="t" style="left:659.0px;top:802.4px;font-size:51.5px;transform:scaleX(1.039)">a</i>
<i class="t" style="left:689.7px;top:802.4px;font-size:51.5px;transform:scaleX(1.120)">r</i>
<i class="t" style="left:710.1px;top:802.4px;font-size:51.5px;transform:scaleX(1.120)">y</i>
<i class="t" style="left:758.3px;top:802.4px;font-size:51.5px;transform:scaleX(1.120)">t</i>
<i class="t" style="left:776.1px;top:802.4px;font-size:51.5px;transform:scaleX(1.094)">h</i>
<i class="t" style="left:807.4px;top:802.4px;font-size:51.5px;transform:scaleX(1.030)">e</i>
<i class="t" style="left:836.9px;top:802.4px;font-size:51.5px;transform:scaleX(1.049)">o</i>
<i class="t" style="left:867.9px;top:802.4px;font-size:51.5px;transform:scaleX(1.120)">r</i>
<i class="t" style="left:888.3px;top:802.4px;font-size:51.5px;transform:scaleX(1.120)">y</i>
<i class="t" style="left:936.4px;top:802.4px;font-size:51.5px;transform:scaleX(1.120)">(</i>
<i class="t" style="left:957.3px;top:802.4px;font-size:51.5px;transform:scaleX(1.030)">e</i>
<i class="t" style="left:987.8px;top:802.4px;font-size:51.5px;transform:scaleX(1.120)">.</i>
<i class="t" style="left:1004.8px;top:802.4px;font-size:51.5px;transform:scaleX(1.077)">g</i>
<i class="t" style="left:1036.6px;top:802.4px;font-size:51.5px;transform:scaleX(1.120)">.</i>
<i class="t" style="left:1054.7px;top:802.4px;font-size:51.5px;transform:scaleX(1.120)">,</i>
<i class="t" style="left:1089.1px;top:802.4px;font-size:51.5px;transform:scaleX(0.969)">T</i>
<i class="t" style="left:1120.6px;top:802.4px;font-size:51.5px;transform:scaleX(1.120)">r</i>
<i class="t" style="left:1141.1px;top:802.4px;font-size:51.5px;transform:scaleX(1.120)">i</i>
<i class="t" style="left:1154.5px;top:802.4px;font-size:51.5px;transform:scaleX(1.120)">v</i>
<i class="t" style="left:1183.6px;top:802.4px;font-size:51.5px;transform:scaleX(1.030)">e</i>
<i class="t" style="left:1214.1px;top:802.4px;font-size:51.5px;transform:scaleX(1.120)">r</i>
<i class="t" style="left:1234.2px;top:802.4px;font-size:51.5px;transform:scaleX(1.001)">s</i>
<i class="t" style="left:1261.6px;top:802.4px;font-size:51.5px;transform:scaleX(1.120)">-</i>
<i class="t" style="left:1282.5px;top:802.4px;font-size:51.5px;transform:scaleX(1.007)">W</i>
<i class="t" style="left:1331.8px;top:802.4px;font-size:51.5px;transform:scaleX(1.120)">i</i>
<i class="t" style="left:1345.4px;top:802.4px;font-size:51.5px;transform:scaleX(1.120)">l</i>
<i class="t" style="left:1358.9px;top:802.4px;font-size:51.5px;transform:scaleX(1.120)">l</i>
<i class="t" style="left:1372.1px;top:802.4px;font-size:51.5px;transform:scaleX(1.039)">a</i>
<i class="t" style="left:1402.8px;top:802.4px;font-size:51.5px;transform:scaleX(1.120)">r</i>
<i class="t" style="left:1423.0px;top:802.4px;font-size:51.5px;transform:scaleX(1.077)">d</i>
<i class="t" style="left:1455.5px;top:802.4px;font-size:51.5px;transform:scaleX(1.120)">)</i>
<i class="t" style="left:1493.7px;top:802.4px;font-size:51.5px;transform:scaleX(1.001)">s</i>
<i class="t" style="left:1519.5px;top:802.4px;font-size:51.5px;transform:scaleX(1.094)">u</i>
<i class="t" style="left:1550.9px;top:802.4px;font-size:51.5px;transform:scaleX(1.077)">g</i>
<i class="t" style="left:1581.7px;top:802.4px;font-size:51.5px;transform:scaleX(1.077)">g</i>
<i class="t" style="left:1612.5px;top:802.4px;font-size:51.5px;transform:scaleX(1.030)">e</i>
<i class="t" style="left:1642.0px;top:802.4px;font-size:51.5px;transform:scaleX(1.001)">s</i>
<i class="t" style="left:1669.6px;top:802.4px;font-size:51.5px;transform:scaleX(1.120)">t</i>
<i class="t" style="left:1706.5px;top:802.4px;font-size:51.5px;transform:scaleX(1.120)">t</i>
<i class="t" style="left:1724.3px;top:802.4px;font-size:51.5px;transform:scaleX(1.094)">h</i>
<i class="t" style="left:1755.6px;top:802.4px;font-size:51.5px;transform:scaleX(1.039)">a</i>
<i class="t" style="left:1787.1px;top:802.4px;font-size:51.5px;transform:scaleX(1.120)">t</i>
<i class="t" style="left:1822.3px;top:802.4px;font-size:51.5px;transform:scaleX(1.049)">o</i>
<i class="t" style="left:1852.3px;top:802.4px;font-size:51.5px;transform:scaleX(1.094)">n</i>
<i class="t" style="left:1883.6px;top:802.4px;font-size:51.5px;transform:scaleX(1.030)">e</i>
<i class="t" style="left:1930.6px;top:802.4px;font-size:51.5px;transform:scaleX(1.001)">s</i>
<i class="t" style="left:1956.3px;top:802.4px;font-size:51.5px;transform:scaleX(1.030)">e</i>
<i class="t" style="left:1986.1px;top:802.4px;font-size:51.5px;transform:scaleX(1.120)">x</i>
<i class="t" style="left:2032.6px;top:802.4px;font-size:51.5px;transform:scaleX(1.089)">w</i>
<i class="t" style="left:2073.4px;top:802.4px;font-size:51.5px;transform:scaleX(1.120)">i</i>
<i class="t" style="left:2087.0px;top:802.4px;font-size:51.5px;transform:scaleX(1.120)">l</i>
<i class="t" style="left:2100.6px;top:802.4px;font-size:51.5px;transform:scaleX(1.120)">l</i>
<i class="t" style="left:2132.1px;top:802.4px;font-size:51.5px;transform:scaleX(1.120)">r</i>
<i class="t" style="left:2152.3px;top:802.4px;font-size:51.5px;transform:scaleX(1.030)">e</i>
<i class="t" style="left:2181.8px;top:802.4px;font-size:51.5px;transform:scaleX(1.001)">c</i>
<i class="t" style="left:2207.6px;top:802.4px;font-size:51.5px;transform:scaleX(1.030)">e</i>
<i class="t" style="left:2237.5px;top:802.4px;font-size:51.5px;transform:scaleX(1.120)">i</i>
<i class="t" style="left:2250.9px;top:802.4px;font-size:51.5px;transform:scaleX(1.120)">v</i>
<i class="t" style="left:2280.0px;top:802.4px;font-size:51.5px;transform:scaleX(1.030)">e</i>
<i class="t" style="left:429.2px;top:849.7px;font-size:51.5px;transform:scaleX(1.120)">m</i>
<i class="t" style="left:477.4px;top:849.7px;font-size:51.5px;transform:scaleX(1.054)">o</i>
<i class="t" style="left:508.6px;top:849.7px;font-size:51.5px;transform:scaleX(1.120)">r</i>
<i class="t" style="left:528.8px;top:849.7px;font-size:51.5px;transform:scaleX(1.035)">e</i>
<i class="t" style="left:576.3px;top:849.7px;font-size:51.5px;transform:scaleX(1.120)">i</i>
<i class="t" style="left:589.6px;top:849.7px;font-size:51.5px;transform:scaleX(1.099)">n</i>
<i class="t" style="left:621.3px;top:849.7px;font-size:51.5px;transform:scaleX(1.120)">v</i>
<i class="t" style="left:650.5px;top:849.7px;font-size:51.5px;transform:scaleX(1.035)">e</i>
<i class="t" style="left:680.1px;top:849.7px;font-size:51.5px;transform:scaleX(1.006)">s</i>
<i class="t" style="left:707.8px;top:849.7px;font-size:51.5px;transform:scaleX(1.120)">t</i>
<i class="t" style="left:725.8px;top:849.7px;font-size:51.5px;transform:scaleX(1.120)">m</i>
<i class="t" style="left:774.0px;top:849.7px;font-size:51.5px;transform:scaleX(1.035)">e</i>
<i class="t" style="left:803.6px;top:849.7px;font-size:51.5px;transform:scaleX(1.099)">n</i>
<i class="t" style="left:836.9px;top:849.7px;font-size:51.5px;transform:scaleX(1.120)">t</i>
<i class="t" style="left:874.0px;top:849.7px;font-size:51.5px;transform:scaleX(1.120)">t</i>
<i class="t" style="left:891.8px;top:849.7px;font-size:51.5px;transform:scaleX(1.099)">h</i>
<i class="t" style="left:923.2px;top:849.7px;font-size:51.5px;transform:scaleX(1.043)">a</i>
<i class="t" style="left:953.1px;top:849.7px;font-size:51.5px;transform:scaleX(1.099)">n</i>
<i class="t" style="left:1003.9px;top:849.7px;font-size:51.5px;transform:scaleX(1.120)">t</i>
<i class="t" style="left:1021.7px;top:849.7px;font-size:51.5px;transform:scaleX(1.099)">h</i>
<i class="t" style="left:1053.2px;top:849.7px;font-size:51.5px;transform:scaleX(1.035)">e</i>
<i class="t" style="left:1100.3px;top:849.7px;font-size:51.5px;transform:scaleX(1.054)">o</i>
<i class="t" style="left:1132.3px;top:849.7px;font-size:51.5px;transform:scaleX(1.120)">t</i>
<i class="t" style="left:1150.1px;top:849.7px;font-size:51.5px;transform:scaleX(1.099)">h</i>
<i class="t" style="left:1181.6px;top:849.7px;font-size:51.5px;transform:scaleX(1.035)">e</i>
<i class="t" style="left:1212.2px;top:849.7px;font-size:51.5px;transform:scaleX(1.120)">r</i>
<i class="t" style="left:1249.9px;top:849.7px;font-size:51.5px;transform:scaleX(1.082)">d</i>
<i class="t" style="left:1280.9px;top:849.7px;font-size:51.5px;transform:scaleX(1.035)">e</i>
<i class="t" style="left:1310.5px;top:849.7px;font-size:51.5px;transform:scaleX(1.082)">p</i>
<i class="t" style="left:1341.5px;top:849.7px;font-size:51.5px;transform:scaleX(1.035)">e</i>
<i class="t" style="left:1371.2px;top:849.7px;font-size:51.5px;transform:scaleX(1.099)">n</i>
<i class="t" style="left:1402.6px;top:849.7px;font-size:51.5px;transform:scaleX(1.082)">d</i>
<i class="t" style="left:1434.0px;top:849.7px;font-size:51.5px;transform:scaleX(1.120)">i</i>
<i class="t" style="left:1447.2px;top:849.7px;font-size:51.5px;transform:scaleX(1.099)">n</i>
<i class="t" style="left:1478.7px;top:849.7px;font-size:51.5px;transform:scaleX(1.082)">g</i>
<i class="t" style="left:1527.2px;top:849.7px;font-size:51.5px;transform:scaleX(1.054)">o</i>
<i class="t" style="left:1557.4px;top:849.7px;font-size:51.5px;transform:scaleX(1.099)">n</i>
<i class="t" style="left:1608.1px;top:849.7px;font-size:51.5px;transform:scaleX(1.120)">t</i>
<i class="t" style="left:1625.9px;top:849.7px;font-size:51.5px;transform:scaleX(1.099)">h</i>
<i class="t" style="left:1657.4px;top:849.7px;font-size:51.5px;transform:scaleX(1.035)">e</i>
<i class="t" style="left:1704.6px;top:849.7px;font-size:51.5px;transform:scaleX(1.006)">c</i>
<i class="t" style="left:1730.5px;top:849.7px;font-size:51.5px;transform:scaleX(1.054)">o</i>
<i class="t" style="left:1760.6px;top:849.7px;font-size:51.5px;transform:scaleX(1.099)">n</i>
<i class="t" style="left:1792.1px;top:849.7px;font-size:51.5px;transform:scaleX(1.082)">d</i>
<i class="t" style="left:1823.5px;top:849.7px;font-size:51.5px;transform:scaleX(1.120)">i</i>
<i class="t" style="left:1838.5px;top:849.7px;font-size:51.5px;transform:scaleX(1.120)">t</i>
<i class="t" style="left:1856.7px;top:849.7px;font-size:51.5px;transform:scaleX(1.120)">i</i>
<i class="t" style="left:1869.9px;top:849.7px;font-size:51.5px;transform:scaleX(1.054)">o</i>
<i class="t" style="left:1900.1px;top:849.7px;font-size:51.5px;transform:scaleX(1.099)">n</i>
<i class="t" style="left:1949.1px;top:849.7px;font-size:51.5px;transform:scaleX(1.054)">o</i>
<i class="t" style="left:1980.0px;top:849.7px;font-size:51.5px;transform:scaleX(1.120)">f</i>
<i class="t" style="left:2016.1px;top:849.7px;font-size:51.5px;transform:scaleX(1.120)">t</i>
<i class="t" style="left:2033.9px;top:849.7px;font-size:51.5px;transform:scaleX(1.099)">h</i>
<i class="t" style="left:2065.3px;top:849.7px;font-size:51.5px;transform:scaleX(1.035)">e</i>
<i class="t" style="left:2112.6px;top:849.7px;font-size:51.5px;transform:scaleX(1.120)">m</i>
<i class="t" style="left:2160.9px;top:849.7px;font-size:51.5px;transform:scaleX(1.054)">o</i>
<i class="t" style="left:2192.8px;top:849.7px;font-size:51.5px;transform:scaleX(1.120)">t</i>
<i class="t" style="left:2210.6px;top:849.7px;font-size:51.5px;transform:scaleX(1.099)">h</i>
<i class="t" style="left:2242.1px;top:849.7px;font-size:51.5px;transform:scaleX(1.035)">e</i>
<i class="t" style="left:2272.8px;top:849.7px;font-size:51.5px;transform:scaleX(1.120)">r</i>
<i class="t" style="left:2294.0px;top:849.7px;font-size:51.5px;transform:scaleX(1.120)">.</i>
<i class="t" style="left:306.4px;top:911.0px;font-size:59px;transform:scaleX(0.873)">P</i>
<i class="r k" style="left:344.0px;top:918.8px;width:17.4px;height:4.4px"></i>
<i class="r k" style="left:344.0px;top:955.7px;width:17.4px;height:4.4px"></i>
<i class="r k" style="left:349.4px;top:918.8px;width:6.6px;height:41.3px"></i>
<i class="t" style="left:385.2px;top:911.0px;font-size:59px;transform:scaleX(1.120)">i</i>
<i class="t" style="left:400.4px;top:911.0px;font-size:59px;transform:scaleX(1.099)">n</i>
<i class="t" style="left:436.4px;top:911.0px;font-size:59px;transform:scaleX(1.006)">c</i>
<i class="t" style="left:466.6px;top:911.0px;font-size:59px;transform:scaleX(1.120)">l</i>
<i class="t" style="left:481.7px;top:911.0px;font-size:59px;transform:scaleX(1.099)">u</i>
<i class="t" style="left:517.8px;top:911.0px;font-size:59px;transform:scaleX(1.081)">d</i>
<i class="t" style="left:553.2px;top:911.0px;font-size:59px;transform:scaleX(1.034)">e</i>
<i class="t" style="left:587.2px;top:911.0px;font-size:59px;transform:scaleX(1.006)">s</i>
<i class="t" style="left:636.9px;top:911.0px;font-size:59px;transform:scaleX(1.006)">s</i>
<i class="t" style="left:666.6px;top:911.0px;font-size:59px;transform:scaleX(1.099)">u</i>
<i class="t" style="left:702.6px;top:911.0px;font-size:59px;transform:scaleX(1.006)">c</i>
<i class="t" style="left:732.3px;top:911.0px;font-size:59px;transform:scaleX(1.099)">h</i>
<i class="t" style="left:789.6px;top:911.0px;font-size:59px;transform:scaleX(1.120)">r</i>
<i class="t" style="left:812.7px;top:911.0px;font-size:59px;transform:scaleX(1.034)">e</i>
<i class="t" style="left:846.7px;top:911.0px;font-size:59px;transform:scaleX(1.043)">a</i>
<i class="t" style="left:880.9px;top:911.0px;font-size:59px;transform:scaleX(1.081)">d</i>
<i class="t" style="left:916.8px;top:911.0px;font-size:59px;transform:scaleX(1.120)">i</i>
<i class="t" style="left:932.4px;top:911.0px;font-size:59px;transform:scaleX(1.120)">l</i>
<i class="t" style="left:947.9px;top:911.0px;font-size:59px;transform:scaleX(1.120)">y</i>
<i class="t" style="left:1001.4px;top:911.0px;font-size:59px;transform:scaleX(1.054)">o</i>
<i class="t" style="left:1035.9px;top:911.0px;font-size:59px;transform:scaleX(1.081)">b</i>
<i class="t" style="left:1071.4px;top:911.0px;font-size:59px;transform:scaleX(1.006)">s</i>
<i class="t" style="left:1101.1px;top:911.0px;font-size:59px;transform:scaleX(1.034)">e</i>
<i class="t" style="left:1136.2px;top:911.0px;font-size:59px;transform:scaleX(1.120)">r</i>
<i class="t" style="left:1159.7px;top:911.0px;font-size:59px;transform:scaleX(1.120)">v</i>
<i class="t" style="left:1193.1px;top:911.0px;font-size:59px;transform:scaleX(1.043)">a</i>
<i class="t" style="left:1227.3px;top:911.0px;font-size:59px;transform:scaleX(1.081)">b</i>
<i class="t" style="left:1263.2px;top:911.0px;font-size:59px;transform:scaleX(1.120)">l</i>
<i class="t" style="left:1278.4px;top:911.0px;font-size:59px;transform:scaleX(1.034)">e</i>
<i class="t" style="left:1334.4px;top:911.0px;font-size:59px;transform:scaleX(1.120)">t</i>
<i class="t" style="left:1354.8px;top:911.0px;font-size:59px;transform:scaleX(1.099)">h</i>
<i class="t" style="left:1391.3px;top:911.0px;font-size:59px;transform:scaleX(1.120)">i</i>
<i class="t" style="left:1406.5px;top:911.0px;font-size:59px;transform:scaleX(1.099)">n</i>
<i class="t" style="left:1442.5px;top:911.0px;font-size:59px;transform:scaleX(1.081)">g</i>
<i class="t" style="left:1478.0px;top:911.0px;font-size:59px;transform:scaleX(1.006)">s</i>
<i class="t" style="left:1527.7px;top:911.0px;font-size:59px;transform:scaleX(1.043)">a</i>
<i class="t" style="left:1562.0px;top:911.0px;font-size:59px;transform:scaleX(1.006)">s</i>
<i class="t" style="left:1611.7px;top:911.0px;font-size:59px;transform:scaleX(1.099)">h</i>
<i class="t" style="left:1647.7px;top:911.0px;font-size:59px;transform:scaleX(1.054)">o</i>
<i class="t" style="left:1682.8px;top:911.0px;font-size:59px;transform:scaleX(1.120)">l</i>
<i class="t" style="left:1697.9px;top:911.0px;font-size:59px;transform:scaleX(1.081)">d</i>
<i class="t" style="left:1733.8px;top:911.0px;font-size:59px;transform:scaleX(1.120)">i</i>
<i class="t" style="left:1749.0px;top:911.0px;font-size:59px;transform:scaleX(1.099)">n</i>
<i class="t" style="left:1785.0px;top:911.0px;font-size:59px;transform:scaleX(1.081)">g</i>
<i class="t" style="left:1821.7px;top:911.0px;font-size:59px;transform:scaleX(1.120)">,</i>
<i class="t" style="left:1862.1px;top:911.0px;font-size:59px;transform:scaleX(1.120)">f</i>
<i class="t" style="left:1881.3px;top:911.0px;font-size:59px;transform:scaleX(1.034)">e</i>
<i class="t" style="left:1915.3px;top:911.0px;font-size:59px;transform:scaleX(1.034)">e</i>
<i class="t" style="left:1949.2px;top:911.0px;font-size:59px;transform:scaleX(1.081)">d</i>
<i class="t" style="left:1985.2px;top:911.0px;font-size:59px;transform:scaleX(1.120)">i</i>
<i class="t" style="left:2000.3px;top:911.0px;font-size:59px;transform:scaleX(1.099)">n</i>
<i class="t" style="left:2036.4px;top:911.0px;font-size:59px;transform:scaleX(1.081)">g</i>
<i class="t" style="left:2073.0px;top:911.0px;font-size:59px;transform:scaleX(1.120)">,</i>
<i class="t" style="left:2112.6px;top:911.0px;font-size:59px;transform:scaleX(1.099)">n</i>
<i class="t" style="left:2148.7px;top:911.0px;font-size:59px;transform:scaleX(1.099)">u</i>
<i class="t" style="left:2185.9px;top:911.0px;font-size:59px;transform:scaleX(1.120)">r</i>
<i class="t" style="left:2209.1px;top:911.0px;font-size:59px;transform:scaleX(1.006)">s</i>
<i class="t" style="left:2239.2px;top:911.0px;font-size:59px;transform:scaleX(1.120)">i</i>
<i class="t" style="left:2254.3px;top:911.0px;font-size:59px;transform:scaleX(1.099)">n</i>
<i class="t" style="left:2290.4px;top:911.0px;font-size:59px;transform:scaleX(1.081)">g</i>
<i class="t" style="left:2327.1px;top:911.0px;font-size:59px;transform:scaleX(1.120)">,</i>
<i class="t" style="left:306.4px;top:966.1px;font-size:59px;transform:scaleX(1.005)">c</i>
<i class="t" style="left:336.1px;top:966.1px;font-size:59px;transform:scaleX(1.053)">o</i>
<i class="t" style="left:370.8px;top:966.1px;font-size:59px;transform:scaleX(1.120)">m</i>
<i class="t" style="left:426.9px;top:966.1px;font-size:59px;transform:scaleX(1.120)">f</i>
<i class="t" style="left:446.1px;top:966.1px;font-size:59px;transform:scaleX(1.053)">o</i>
<i class="t" style="left:481.8px;top:966.1px;font-size:59px;transform:scaleX(1.120)">r</i>
<i class="t" style="left:507.0px;top:966.1px;font-size:59px;transform:scaleX(1.120)">t</i>
<i class="t" style="left:527.8px;top:966.1px;font-size:59px;transform:scaleX(1.120)">i</i>
<i class="t" style="left:542.9px;top:966.1px;font-size:59px;transform:scaleX(1.098)">n</i>
<i class="t" style="left:579.0px;top:966.1px;font-size:59px;transform:scaleX(1.081)">g</i>
<i class="t" style="left:615.6px;top:966.1px;font-size:59px;transform:scaleX(1.120)">,</i>
<i class="t" style="left:657.3px;top:966.1px;font-size:59px;transform:scaleX(1.120)">t</i>
<i class="t" style="left:677.6px;top:966.1px;font-size:59px;transform:scaleX(1.034)">e</i>
<i class="t" style="left:711.6px;top:966.1px;font-size:59px;transform:scaleX(1.043)">a</i>
<i class="t" style="left:745.8px;top:966.1px;font-size:59px;transform:scaleX(1.005)">c</i>
<i class="t" style="left:775.5px;top:966.1px;font-size:59px;transform:scaleX(1.098)">h</i>
<i class="t" style="left:811.9px;top:966.1px;font-size:59px;transform:scaleX(1.120)">i</i>
<i class="t" style="left:827.1px;top:966.1px;font-size:59px;transform:scaleX(1.098)">n</i>
<i class="t" style="left:863.1px;top:966.1px;font-size:59px;transform:scaleX(1.081)">g</i>
<i class="t" style="left:899.8px;top:966.1px;font-size:59px;transform:scaleX(1.120)">,</i>
<i class="t" style="left:939.5px;top:966.1px;font-size:59px;transform:scaleX(1.120)">m</i>
<i class="t" style="left:994.8px;top:966.1px;font-size:59px;transform:scaleX(1.034)">e</i>
<i class="t" style="left:1028.7px;top:966.1px;font-size:59px;transform:scaleX(1.081)">d</i>
<i class="t" style="left:1064.6px;top:966.1px;font-size:59px;transform:scaleX(1.120)">i</i>
<i class="t" style="left:1079.7px;top:966.1px;font-size:59px;transform:scaleX(1.005)">c</i>
<i class="t" style="left:1109.4px;top:966.1px;font-size:59px;transform:scaleX(1.043)">a</i>
<i class="t" style="left:1144.1px;top:966.1px;font-size:59px;transform:scaleX(1.120)">l</i>
<i class="t" style="left:1179.3px;top:966.1px;font-size:59px;transform:scaleX(1.005)">c</i>
<i class="t" style="left:1208.9px;top:966.1px;font-size:59px;transform:scaleX(1.043)">a</i>
<i class="t" style="left:1244.3px;top:966.1px;font-size:59px;transform:scaleX(1.120)">r</i>
<i class="t" style="left:1267.4px;top:966.1px;font-size:59px;transform:scaleX(1.034)">e</i>
<i class="t" style="left:1323.3px;top:966.1px;font-size:59px;transform:scaleX(1.120)">(</i>
<i class="t" style="left:1347.7px;top:966.1px;font-size:59px;transform:scaleX(1.120)">i</i>
<i class="t" style="left:1362.9px;top:966.1px;font-size:59px;transform:scaleX(1.098)">n</i>
<i class="t" style="left:1398.9px;top:966.1px;font-size:59px;transform:scaleX(1.098)">h</i>
<i class="t" style="left:1434.9px;top:966.1px;font-size:59px;transform:scaleX(1.034)">e</i>
<i class="t" style="left:1470.0px;top:966.1px;font-size:59px;transform:scaleX(1.120)">r</i>
<i class="t" style="left:1493.6px;top:966.1px;font-size:59px;transform:scaleX(1.120)">i</i>
<i class="t" style="left:1510.8px;top:966.1px;font-size:59px;transform:scaleX(1.120)">t</i>
<i class="t" style="left:1531.2px;top:966.1px;font-size:59px;transform:scaleX(1.043)">a</i>
<i class="t" style="left:1565.4px;top:966.1px;font-size:59px;transform:scaleX(1.098)">n</i>
<i class="t" style="left:1601.5px;top:966.1px;font-size:59px;transform:scaleX(1.005)">c</i>
<i class="t" style="left:1631.1px;top:966.1px;font-size:59px;transform:scaleX(1.034)">e</i>
<i class="t" style="left:1667.0px;top:966.1px;font-size:59px;transform:scaleX(1.120)">)</i>
<i class="t" style="left:306.4px;top:1033.2px;font-size:59px;transform:scaleX(0.994)">H</i>
<i class="t" style="left:348.8px;top:1033.2px;font-size:59px;transform:scaleX(1.044)">o</i>
<i class="t" style="left:383.0px;top:1033.2px;font-size:59px;transform:scaleX(1.083)">w</i>
<i class="t" style="left:429.2px;top:1033.2px;font-size:59px;transform:scaleX(1.025)">e</i>
<i class="t" style="left:463.0px;top:1033.2px;font-size:59px;transform:scaleX(1.120)">v</i>
<i class="t" style="left:496.2px;top:1033.2px;font-size:59px;transform:scaleX(1.025)">e</i>
<i class="t" style="left:530.9px;top:1033.2px;font-size:59px;transform:scaleX(1.120)">r</i>
<i class="t" style="left:555.0px;top:1033.2px;font-size:59px;transform:scaleX(1.120)">,</i>
<i class="t" style="left:594.3px;top:1033.2px;font-size:59px;transform:scaleX(1.044)">o</i>
<i class="t" style="left:628.6px;top:1033.2px;font-size:59px;transform:scaleX(1.071)">b</i>
<i class="t" style="left:663.7px;top:1033.2px;font-size:59px;transform:scaleX(0.996)">s</i>
<i class="t" style="left:693.1px;top:1033.2px;font-size:59px;transform:scaleX(1.025)">e</i>
<i class="t" style="left:727.8px;top:1033.2px;font-size:59px;transform:scaleX(1.120)">r</i>
<i class="t" style="left:751.0px;top:1033.2px;font-size:59px;transform:scaleX(1.120)">v</i>
<i class="t" style="left:784.2px;top:1033.2px;font-size:59px;transform:scaleX(1.033)">a</i>
<i class="t" style="left:820.1px;top:1033.2px;font-size:59px;transform:scaleX(1.120)">t</i>
<i class="t" style="left:840.8px;top:1033.2px;font-size:59px;transform:scaleX(1.120)">i</i>
<i class="t" style="left:855.8px;top:1033.2px;font-size:59px;transform:scaleX(1.044)">o</i>
<i class="t" style="left:890.1px;top:1033.2px;font-size:59px;transform:scaleX(1.088)">n</i>
<i class="t" style="left:925.8px;top:1033.2px;font-size:59px;transform:scaleX(0.996)">s</i>
<i class="t" style="left:975.1px;top:1033.2px;font-size:59px;transform:scaleX(1.117)">m</i>
<i class="t" style="left:1030.0px;top:1033.2px;font-size:59px;transform:scaleX(1.033)">a</i>
<i class="t" style="left:1064.1px;top:1033.2px;font-size:59px;transform:scaleX(1.120)">y</i>
<i class="t" style="left:1117.1px;top:1033.2px;font-size:59px;transform:scaleX(1.088)">n</i>
<i class="t" style="left:1152.9px;top:1033.2px;font-size:59px;transform:scaleX(1.044)">o</i>
<i class="t" style="left:1189.0px;top:1033.2px;font-size:59px;transform:scaleX(1.120)">t</i>
<i class="t" style="left:1229.2px;top:1033.2px;font-size:59px;transform:scaleX(0.996)">c</i>
<i class="t" style="left:1258.6px;top:1033.2px;font-size:59px;transform:scaleX(1.033)">a</i>
<i class="t" style="left:1292.5px;top:1033.2px;font-size:59px;transform:scaleX(1.071)">p</i>
<i class="t" style="left:1329.6px;top:1033.2px;font-size:59px;transform:scaleX(1.120)">t</i>
<i class="t" style="left:1349.9px;top:1033.2px;font-size:59px;transform:scaleX(1.088)">u</i>
<i class="t" style="left:1386.6px;top:1033.2px;font-size:59px;transform:scaleX(1.120)">r</i>
<i class="t" style="left:1409.7px;top:1033.2px;font-size:59px;transform:scaleX(1.025)">e</i>
<i class="t" style="left:1463.2px;top:1033.2px;font-size:59px;transform:scaleX(1.025)">e</i>
<i class="t" style="left:1497.0px;top:1033.2px;font-size:59px;transform:scaleX(1.120)">v</i>
<i class="t" style="left:1530.2px;top:1033.2px;font-size:59px;transform:scaleX(1.025)">e</i>
<i class="t" style="left:1564.9px;top:1033.2px;font-size:59px;transform:scaleX(1.120)">r</i>
<i class="t" style="left:1588.1px;top:1033.2px;font-size:59px;transform:scaleX(1.120)">y</i>
<i class="t" style="left:1623.3px;top:1033.2px;font-size:59px;transform:scaleX(1.120)">t</i>
<i class="t" style="left:1643.6px;top:1033.2px;font-size:59px;transform:scaleX(1.088)">h</i>
<i class="t" style="left:1679.7px;top:1033.2px;font-size:59px;transform:scaleX(1.120)">i</i>
<i class="t" style="left:1694.7px;top:1033.2px;font-size:59px;transform:scaleX(1.088)">n</i>
<i class="t" style="left:1730.4px;top:1033.2px;font-size:59px;transform:scaleX(1.071)">g</i>
<i class="t" style="left:1766.7px;top:1033.2px;font-size:59px;transform:scaleX(1.120)">.</i>
<i class="t" style="left:1825.9px;top:1033.2px;font-size:59px;transform:scaleX(0.900)">F</i>
<i class="t" style="left:1858.3px;top:1033.2px;font-size:59px;transform:scaleX(1.044)">o</i>
<i class="t" style="left:1893.6px;top:1033.2px;font-size:59px;transform:scaleX(1.120)">r</i>
<i class="t" style="left:1936.5px;top:1033.2px;font-size:59px;transform:scaleX(1.025)">e</i>
<i class="t" style="left:1970.3px;top:1033.2px;font-size:59px;transform:scaleX(1.120)">x</i>
<i class="t" style="left:2003.5px;top:1033.2px;font-size:59px;transform:scaleX(1.033)">a</i>
<i class="t" style="left:2037.4px;top:1033.2px;font-size:59px;transform:scaleX(1.117)">m</i>
<i class="t" style="left:2092.3px;top:1033.2px;font-size:59px;transform:scaleX(1.071)">p</i>
<i class="t" style="left:2127.9px;top:1033.2px;font-size:59px;transform:scaleX(1.120)">l</i>
<i class="t" style="left:2143.0px;top:1033.2px;font-size:59px;transform:scaleX(1.025)">e</i>
<i class="t" style="left:2177.7px;top:1033.2px;font-size:59px;transform:scaleX(1.120)">,</i>
<i class="t" style="left:306.4px;top:1086.4px;font-size:59px;transform:scaleX(1.041)">a</i>
<i class="t" style="left:340.7px;top:1086.4px;font-size:59px;transform:scaleX(1.120)">m</i>
<i class="t" style="left:395.9px;top:1086.4px;font-size:59px;transform:scaleX(1.052)">o</i>
<i class="t" style="left:430.4px;top:1086.4px;font-size:59px;transform:scaleX(1.097)">n</i>
<i class="t" style="left:466.4px;top:1086.4px;font-size:59px;transform:scaleX(1.080)">g</i>
<i class="t" style="left:523.9px;top:1086.4px;font-size:59px;transform:scaleX(1.120)">t</i>
<i class="t" style="left:544.2px;top:1086.4px;font-size:59px;transform:scaleX(1.097)">h</i>
<i class="t" style="left:580.2px;top:1086.4px;font-size:59px;transform:scaleX(1.033)">e</i>
<i class="t" style="left:634.1px;top:1086.4px;font-size:59px;transform:scaleX(0.889)">Y</i>
<i class="t" style="left:669.1px;top:1086.4px;font-size:59px;transform:scaleX(1.041)">a</i>
<i class="t" style="left:703.3px;top:1086.4px;font-size:59px;transform:scaleX(1.097)">n</i>
<i class="t" style="left:739.3px;top:1086.4px;font-size:59px;transform:scaleX(1.052)">o</i>
<i class="t" style="left:773.9px;top:1086.4px;font-size:59px;transform:scaleX(1.120)">m</i>
<i class="t" style="left:829.1px;top:1086.4px;font-size:59px;transform:scaleX(1.041)">a</i>
<i class="t" style="left:863.4px;top:1086.4px;font-size:59px;transform:scaleX(1.120)">m</i>
<i class="t" style="left:918.6px;top:1086.4px;font-size:59px;transform:scaleX(1.052)">ö</i>
<i class="t" style="left:973.1px;top:1086.4px;font-size:59px;transform:scaleX(1.080)">p</i>
<i class="t" style="left:1008.5px;top:1086.4px;font-size:59px;transform:scaleX(1.041)">a</i>
<i class="t" style="left:1043.9px;top:1086.4px;font-size:59px;transform:scaleX(1.120)">r</i>
<i class="t" style="left:1067.0px;top:1086.4px;font-size:59px;transform:scaleX(1.033)">e</i>
<i class="t" style="left:1100.9px;top:1086.4px;font-size:59px;transform:scaleX(1.097)">n</i>
<i class="t" style="left:1138.9px;top:1086.4px;font-size:59px;transform:scaleX(1.120)">t</i>
<i class="t" style="left:1159.3px;top:1086.4px;font-size:59px;transform:scaleX(1.004)">s</i>
<i class="t" style="left:1208.9px;top:1086.4px;font-size:59px;transform:scaleX(1.041)">a</i>
<i class="t" style="left:1243.5px;top:1086.4px;font-size:59px;transform:scaleX(1.120)">l</i>
<i class="t" style="left:1258.7px;top:1086.4px;font-size:59px;transform:scaleX(1.004)">s</i>
<i class="t" style="left:1288.3px;top:1086.4px;font-size:59px;transform:scaleX(1.052)">o</i>
<i class="t" style="left:1326.5px;top:1086.4px;font-size:59px;transform:scaleX(1.120)">:</i>
<i class="t" style="left:429.0px;top:1157.2px;font-size:59px;transform:scaleX(0.872)">P</i>
<i class="t" style="left:464.5px;top:1157.2px;font-size:59px;transform:scaleX(1.120)">r</i>
<i class="t" style="left:487.6px;top:1157.2px;font-size:59px;transform:scaleX(1.053)">o</i>
<i class="t" style="left:522.5px;top:1157.2px;font-size:59px;transform:scaleX(1.120)">v</i>
<i class="t" style="left:556.3px;top:1157.2px;font-size:59px;transform:scaleX(1.120)">i</i>
<i class="t" style="left:571.5px;top:1157.2px;font-size:59px;transform:scaleX(1.081)">d</i>
<i class="t" style="left:606.9px;top:1157.2px;font-size:59px;transform:scaleX(1.034)">e</i>
<i class="t" style="left:660.9px;top:1157.2px;font-size:59px;transform:scaleX(1.034)">e</i>
<i class="t" style="left:695.0px;top:1157.2px;font-size:59px;transform:scaleX(1.120)">m</i>
<i class="t" style="left:750.2px;top:1157.2px;font-size:59px;transform:scaleX(1.053)">o</i>
<i class="t" style="left:786.7px;top:1157.2px;font-size:59px;transform:scaleX(1.120)">t</i>
<i class="t" style="left:807.6px;top:1157.2px;font-size:59px;transform:scaleX(1.120)">i</i>
<i class="t" style="left:822.7px;top:1157.2px;font-size:59px;transform:scaleX(1.053)">o</i>
<i class="t" style="left:857.3px;top:1157.2px;font-size:59px;transform:scaleX(1.098)">n</i>
<i class="t" style="left:893.3px;top:1157.2px;font-size:59px;transform:scaleX(1.042)">a</i>
<i class="t" style="left:928.0px;top:1157.2px;font-size:59px;transform:scaleX(1.120)">l</i>
<i class="t" style="left:963.1px;top:1157.2px;font-size:59px;transform:scaleX(1.042)">a</i>
<i class="t" style="left:997.3px;top:1157.2px;font-size:59px;transform:scaleX(1.098)">n</i>
<i class="t" style="left:1033.4px;top:1157.2px;font-size:59px;transform:scaleX(1.081)">d</i>
<i class="t" style="left:1088.9px;top:1157.2px;font-size:59px;transform:scaleX(1.005)">s</i>
<i class="t" style="left:1118.5px;top:1157.2px;font-size:59px;transform:scaleX(1.053)">o</i>
<i class="t" style="left:1153.1px;top:1157.2px;font-size:59px;transform:scaleX(1.005)">c</i>
<i class="t" style="left:1183.2px;top:1157.2px;font-size:59px;transform:scaleX(1.120)">i</i>
<i class="t" style="left:1198.3px;top:1157.2px;font-size:59px;transform:scaleX(1.042)">a</i>
<i class="t" style="left:1233.0px;top:1157.2px;font-size:59px;transform:scaleX(1.120)">l</i>
<i class="t" style="left:1268.1px;top:1157.2px;font-size:59px;transform:scaleX(1.005)">s</i>
<i class="t" style="left:1297.8px;top:1157.2px;font-size:59px;transform:scaleX(1.098)">u</i>
<i class="t" style="left:1333.8px;top:1157.2px;font-size:59px;transform:scaleX(1.081)">p</i>
<i class="t" style="left:1369.3px;top:1157.2px;font-size:59px;transform:scaleX(1.081)">p</i>
<i class="t" style="left:1404.7px;top:1157.2px;font-size:59px;transform:scaleX(1.053)">o</i>
<i class="t" style="left:1440.4px;top:1157.2px;font-size:59px;transform:scaleX(1.120)">r</i>
<i class="t" style="left:1465.6px;top:1157.2px;font-size:59px;transform:scaleX(1.120)">t</i>
<i class="t" style="left:429.0px;top:1225.1px;font-size:59px;transform:scaleX(1.005)">H</i>
<i class="t" style="left:471.8px;top:1225.1px;font-size:59px;transform:scaleX(1.035)">e</i>
<i class="t" style="left:506.2px;top:1225.1px;font-size:59px;transform:scaleX(1.120)">l</i>
<i class="t" style="left:521.4px;top:1225.1px;font-size:59px;transform:scaleX(1.082)">p</i>
<i class="t" style="left:577.0px;top:1225.1px;font-size:59px;transform:scaleX(1.007)">s</i>
<i class="t" style="left:606.7px;top:1225.1px;font-size:59px;transform:scaleX(1.054)">o</i>
<i class="t" style="left:641.3px;top:1225.1px;font-size:59px;transform:scaleX(1.100)">n</i>
<i class="t" style="left:677.3px;top:1225.1px;font-size:59px;transform:scaleX(1.007)">s</i>
<i class="t" style="left:728.0px;top:1225.1px;font-size:59px;transform:scaleX(1.120)">f</i>
<i class="t" style="left:747.6px;top:1225.1px;font-size:59px;transform:scaleX(1.120)">i</i>
<i class="t" style="left:762.8px;top:1225.1px;font-size:59px;transform:scaleX(1.100)">n</i>
<i class="t" style="left:798.9px;top:1225.1px;font-size:59px;transform:scaleX(1.082)">d</i>
<i class="t" style="left:854.4px;top:1225.1px;font-size:59px;transform:scaleX(1.044)">a</i>
<i class="t" style="left:908.8px;top:1225.1px;font-size:59px;transform:scaleX(1.082)">b</i>
<i class="t" style="left:945.4px;top:1225.1px;font-size:59px;transform:scaleX(1.120)">r</i>
<i class="t" style="left:969.1px;top:1225.1px;font-size:59px;transform:scaleX(1.120)">i</i>
<i class="t" style="left:984.2px;top:1225.1px;font-size:59px;transform:scaleX(1.082)">d</i>
<i class="t" style="left:1019.7px;top:1225.1px;font-size:59px;transform:scaleX(1.035)">e</i>
<i class="t" style="left:429.0px;top:1293.4px;font-size:59px;transform:scaleX(1.030)">D</i>
<i class="t" style="left:472.9px;top:1293.4px;font-size:59px;transform:scaleX(1.034)">e</i>
<i class="t" style="left:507.7px;top:1293.4px;font-size:59px;transform:scaleX(1.120)">f</i>
<i class="t" style="left:526.9px;top:1293.4px;font-size:59px;transform:scaleX(1.034)">e</i>
<i class="t" style="left:560.8px;top:1293.4px;font-size:59px;transform:scaleX(1.099)">n</i>
<i class="t" style="left:596.9px;top:1293.4px;font-size:59px;transform:scaleX(1.081)">d</i>
<i class="t" style="left:654.4px;top:1293.4px;font-size:59px;transform:scaleX(1.120)">t</i>
<i class="t" style="left:674.8px;top:1293.4px;font-size:59px;transform:scaleX(1.099)">h</i>
<i class="t" style="left:710.9px;top:1293.4px;font-size:59px;transform:scaleX(1.034)">e</i>
<i class="t" style="left:745.3px;top:1293.4px;font-size:59px;transform:scaleX(1.120)">i</i>
<i class="t" style="left:761.6px;top:1293.4px;font-size:59px;transform:scaleX(1.120)">r</i>
<i class="t" style="left:804.8px;top:1293.4px;font-size:59px;transform:scaleX(1.006)">s</i>
<i class="t" style="left:834.5px;top:1293.4px;font-size:59px;transform:scaleX(1.053)">o</i>
<i class="t" style="left:869.0px;top:1293.4px;font-size:59px;transform:scaleX(1.099)">n</i>
<i class="t" style="left:905.1px;top:1293.4px;font-size:59px;transform:scaleX(1.006)">s</i>
<i class="t" style="left:954.8px;top:1293.4px;font-size:59px;transform:scaleX(1.043)">a</i>
<i class="t" style="left:989.0px;top:1293.4px;font-size:59px;transform:scaleX(1.099)">n</i>
<i class="t" style="left:1025.1px;top:1293.4px;font-size:59px;transform:scaleX(1.081)">d</i>
<i class="t" style="left:1080.6px;top:1293.4px;font-size:59px;transform:scaleX(1.081)">d</i>
<i class="t" style="left:1116.1px;top:1293.4px;font-size:59px;transform:scaleX(1.043)">a</i>
<i class="t" style="left:1150.3px;top:1293.4px;font-size:59px;transform:scaleX(1.099)">u</i>
<i class="t" style="left:1186.3px;top:1293.4px;font-size:59px;transform:scaleX(1.081)">g</i>
<i class="t" style="left:1221.8px;top:1293.4px;font-size:59px;transform:scaleX(1.099)">h</i>
<i class="t" style="left:1259.9px;top:1293.4px;font-size:59px;transform:scaleX(1.120)">t</i>
<i class="t" style="left:1280.3px;top:1293.4px;font-size:59px;transform:scaleX(1.034)">e</i>
<i class="t" style="left:1315.4px;top:1293.4px;font-size:59px;transform:scaleX(1.120)">r</i>
<i class="t" style="left:1338.5px;top:1293.4px;font-size:59px;transform:scaleX(1.006)">s</i>
<i class="t" style="left:1389.1px;top:1293.4px;font-size:59px;transform:scaleX(1.120)">f</i>
<i class="t" style="left:1409.5px;top:1293.4px;font-size:59px;transform:scaleX(1.120)">r</i>
<i class="t" style="left:1432.6px;top:1293.4px;font-size:59px;transform:scaleX(1.053)">o</i>
<i class="t" style="left:1467.4px;top:1293.4px;font-size:59px;transform:scaleX(1.120)">m</i>
<i class="t" style="left:1542.6px;top:1293.4px;font-size:59px;transform:scaleX(1.043)">a</i>
<i class="t" style="left:1578.9px;top:1293.4px;font-size:59px;transform:scaleX(1.120)">t</i>
<i class="t" style="left:1601.3px;top:1293.4px;font-size:59px;transform:scaleX(1.120)">t</i>
<i class="t" style="left:1621.7px;top:1293.4px;font-size:59px;transform:scaleX(1.043)">a</i>
<i class="t" style="left:1656.0px;top:1293.4px;font-size:59px;transform:scaleX(1.006)">c</i>
<i class="t" style="left:1686.0px;top:1293.4px;font-size:59px;transform:scaleX(1.120)">k</i>
<i class="t" style="left:1719.3px;top:1293.4px;font-size:59px;transform:scaleX(1.006)">s</i>
<i class="t" style="left:429.0px;top:1360.5px;font-size:59px;transform:scaleX(0.960)">G</i>
<i class="t" style="left:473.5px;top:1360.5px;font-size:59px;transform:scaleX(1.120)">i</i>
<i class="t" style="left:488.9px;top:1360.5px;font-size:59px;transform:scaleX(1.120)">v</i>
<i class="t" style="left:522.3px;top:1360.5px;font-size:59px;transform:scaleX(1.032)">e</i>
<i class="t" style="left:578.2px;top:1360.5px;font-size:59px;transform:scaleX(1.120)">t</i>
<i class="t" style="left:598.5px;top:1360.5px;font-size:59px;transform:scaleX(1.096)">h</i>
<i class="t" style="left:634.5px;top:1360.5px;font-size:59px;transform:scaleX(1.032)">e</i>
<i class="t" style="left:668.8px;top:1360.5px;font-size:59px;transform:scaleX(1.120)">i</i>
<i class="t" style="left:685.1px;top:1360.5px;font-size:59px;transform:scaleX(1.120)">r</i>
<i class="t" style="left:728.2px;top:1360.5px;font-size:59px;transform:scaleX(1.004)">c</i>
<i class="t" style="left:757.9px;top:1360.5px;font-size:59px;transform:scaleX(1.096)">h</i>
<i class="t" style="left:794.3px;top:1360.5px;font-size:59px;transform:scaleX(1.120)">i</i>
<i class="t" style="left:809.9px;top:1360.5px;font-size:59px;transform:scaleX(1.120)">l</i>
<i class="t" style="left:825.0px;top:1360.5px;font-size:59px;transform:scaleX(1.079)">d</i>
<i class="t" style="left:861.5px;top:1360.5px;font-size:59px;transform:scaleX(1.120)">r</i>
<i class="t" style="left:884.7px;top:1360.5px;font-size:59px;transform:scaleX(1.032)">e</i>
<i class="t" style="left:918.5px;top:1360.5px;font-size:59px;transform:scaleX(1.096)">n</i>
<i class="t" style="left:974.5px;top:1360.5px;font-size:59px;transform:scaleX(1.096)">h</i>
<i class="t" style="left:1010.5px;top:1360.5px;font-size:59px;transform:scaleX(1.041)">a</i>
<i class="t" style="left:1045.8px;top:1360.5px;font-size:59px;transform:scaleX(1.120)">r</i>
<i class="t" style="left:1068.9px;top:1360.5px;font-size:59px;transform:scaleX(1.079)">d</i>
<i class="t" style="left:1126.4px;top:1360.5px;font-size:59px;transform:scaleX(1.120)">t</i>
<i class="t" style="left:1146.7px;top:1360.5px;font-size:59px;transform:scaleX(1.051)">o</i>
<i class="t" style="left:1201.2px;top:1360.5px;font-size:59px;transform:scaleX(1.051)">o</i>
<i class="t" style="left:1235.7px;top:1360.5px;font-size:59px;transform:scaleX(1.079)">b</i>
<i class="t" style="left:1271.1px;top:1360.5px;font-size:59px;transform:scaleX(1.004)">s</i>
<i class="t" style="left:1300.8px;top:1360.5px;font-size:59px;transform:scaleX(1.032)">e</i>
<i class="t" style="left:1335.8px;top:1360.5px;font-size:59px;transform:scaleX(1.120)">r</i>
<i class="t" style="left:1359.2px;top:1360.5px;font-size:59px;transform:scaleX(1.120)">v</i>
<i class="t" style="left:1392.5px;top:1360.5px;font-size:59px;transform:scaleX(1.032)">e</i>
<i class="t" style="left:1446.4px;top:1360.5px;font-size:59px;transform:scaleX(1.051)">o</i>
<i class="t" style="left:1482.1px;top:1360.5px;font-size:59px;transform:scaleX(1.120)">r</i>
<i class="t" style="left:1525.3px;top:1360.5px;font-size:59px;transform:scaleX(1.120)">m</i>
<i class="t" style="left:1580.5px;top:1360.5px;font-size:59px;transform:scaleX(1.032)">e</i>
<i class="t" style="left:1614.4px;top:1360.5px;font-size:59px;transform:scaleX(1.041)">a</i>
<i class="t" style="left:1648.5px;top:1360.5px;font-size:59px;transform:scaleX(1.004)">s</i>
<i class="t" style="left:1678.1px;top:1360.5px;font-size:59px;transform:scaleX(1.096)">u</i>
<i class="t" style="left:1715.3px;top:1360.5px;font-size:59px;transform:scaleX(1.120)">r</i>
<i class="t" style="left:1738.4px;top:1360.5px;font-size:59px;transform:scaleX(1.032)">e</i>
<i class="t" style="left:1792.3px;top:1360.5px;font-size:59px;transform:scaleX(1.079)">g</i>
<i class="t" style="left:1828.1px;top:1360.5px;font-size:59px;transform:scaleX(1.120)">i</i>
<i class="t" style="left:1844.1px;top:1360.5px;font-size:59px;transform:scaleX(1.120)">f</i>
<i class="t" style="left:1865.3px;top:1360.5px;font-size:59px;transform:scaleX(1.120)">t</i>
<i class="t" style="left:1885.7px;top:1360.5px;font-size:59px;transform:scaleX(1.004)">s</i>
<i class="r k" style="left:432.3px;top:1437.7px;width:17.4px;height:4.4px"></i>
<i class="r k" style="left:432.3px;top:1474.6px;width:17.4px;height:4.4px"></i>
<i class="r k" style="left:437.7px;top:1437.7px;width:6.6px;height:41.3px"></i>
<i class="t" style="left:453.0px;top:1429.9px;font-size:59px;transform:scaleX(1.098)">n</i>
<i class="t" style="left:509.2px;top:1429.9px;font-size:59px;transform:scaleX(1.120)">m</i>
<i class="t" style="left:564.4px;top:1429.9px;font-size:59px;transform:scaleX(1.053)">o</i>
<i class="t" style="left:599.0px;top:1429.9px;font-size:59px;transform:scaleX(1.081)">d</i>
<i class="t" style="left:634.5px;top:1429.9px;font-size:59px;transform:scaleX(1.034)">e</i>
<i class="t" style="left:669.5px;top:1429.9px;font-size:59px;transform:scaleX(1.120)">r</i>
<i class="t" style="left:692.7px;top:1429.9px;font-size:59px;transform:scaleX(1.098)">n</i>
<i class="t" style="left:748.8px;top:1429.9px;font-size:59px;transform:scaleX(1.005)">s</i>
<i class="t" style="left:778.4px;top:1429.9px;font-size:59px;transform:scaleX(1.053)">o</i>
<i class="t" style="left:813.0px;top:1429.9px;font-size:59px;transform:scaleX(1.005)">c</i>
<i class="t" style="left:843.1px;top:1429.9px;font-size:59px;transform:scaleX(1.120)">i</i>
<i class="t" style="left:858.2px;top:1429.9px;font-size:59px;transform:scaleX(1.034)">e</i>
<i class="t" style="left:894.2px;top:1429.9px;font-size:59px;transform:scaleX(1.120)">t</i>
<i class="t" style="left:914.9px;top:1429.9px;font-size:59px;transform:scaleX(1.120)">y</i>
<i class="t" style="left:968.3px;top:1429.9px;font-size:59px;transform:scaleX(1.093)">w</i>
<i class="t" style="left:1014.9px;top:1429.9px;font-size:59px;transform:scaleX(1.034)">e</i>
<i class="t" style="left:1068.9px;top:1429.9px;font-size:59px;transform:scaleX(1.098)">h</i>
<i class="t" style="left:1104.9px;top:1429.9px;font-size:59px;transform:scaleX(1.043)">a</i>
<i class="t" style="left:1139.5px;top:1429.9px;font-size:59px;transform:scaleX(1.120)">v</i>
<i class="t" style="left:1172.8px;top:1429.9px;font-size:59px;transform:scaleX(1.034)">e</i>
<i class="t" style="left:1227.3px;top:1429.9px;font-size:59px;transform:scaleX(1.120)">i</i>
<i class="t" style="left:1242.4px;top:1429.9px;font-size:59px;transform:scaleX(1.098)">n</i>
<i class="t" style="left:1278.4px;top:1429.9px;font-size:59px;transform:scaleX(1.098)">h</i>
<i class="t" style="left:1314.5px;top:1429.9px;font-size:59px;transform:scaleX(1.034)">e</i>
<i class="t" style="left:1349.6px;top:1429.9px;font-size:59px;transform:scaleX(1.120)">r</i>
<i class="t" style="left:1373.2px;top:1429.9px;font-size:59px;transform:scaleX(1.120)">i</i>
<i class="t" style="left:1390.3px;top:1429.9px;font-size:59px;transform:scaleX(1.120)">t</i>
<i class="t" style="left:1410.7px;top:1429.9px;font-size:59px;transform:scaleX(1.043)">a</i>
<i class="t" style="left:1445.0px;top:1429.9px;font-size:59px;transform:scaleX(1.098)">n</i>
<i class="t" style="left:1481.0px;top:1429.9px;font-size:59px;transform:scaleX(1.005)">c</i>
<i class="t" style="left:1510.6px;top:1429.9px;font-size:59px;transform:scaleX(1.034)">e</i>
<i class="t" style="left:1564.6px;top:1429.9px;font-size:59px;transform:scaleX(1.053)">o</i>
<i class="t" style="left:1600.3px;top:1429.9px;font-size:59px;transform:scaleX(1.120)">r</i>
<i class="t" style="left:1644.0px;top:1429.9px;font-size:59px;transform:scaleX(1.120)">l</i>
<i class="t" style="left:1659.1px;top:1429.9px;font-size:59px;transform:scaleX(1.053)">o</i>
<i class="t" style="left:1693.7px;top:1429.9px;font-size:59px;transform:scaleX(1.043)">a</i>
<i class="t" style="left:1727.9px;top:1429.9px;font-size:59px;transform:scaleX(1.098)">n</i>
<i class="t" style="left:1763.9px;top:1429.9px;font-size:59px;transform:scaleX(1.005)">s</i>
<i class="t" style="left:1813.6px;top:1429.9px;font-size:59px;transform:scaleX(1.093)">w</i>
<i class="t" style="left:1860.2px;top:1429.9px;font-size:59px;transform:scaleX(1.098)">h</i>
<i class="t" style="left:1896.7px;top:1429.9px;font-size:59px;transform:scaleX(1.120)">i</i>
<i class="t" style="left:1911.8px;top:1429.9px;font-size:59px;transform:scaleX(1.005)">c</i>
<i class="t" style="left:1941.5px;top:1429.9px;font-size:59px;transform:scaleX(1.098)">h</i>
<i class="t" style="left:1997.6px;top:1429.9px;font-size:59px;transform:scaleX(1.005)">c</i>
<i class="t" style="left:2027.2px;top:1429.9px;font-size:59px;transform:scaleX(1.043)">a</i>
<i class="t" style="left:2061.4px;top:1429.9px;font-size:59px;transform:scaleX(1.098)">n</i>
<i class="t" style="left:2097.5px;top:1429.9px;font-size:59px;transform:scaleX(1.098)">n</i>
<i class="t" style="left:2133.5px;top:1429.9px;font-size:59px;transform:scaleX(1.053)">o</i>
<i class="t" style="left:2170.1px;top:1429.9px;font-size:59px;transform:scaleX(1.120)">t</i>
<i class="t" style="left:2210.5px;top:1429.9px;font-size:59px;transform:scaleX(1.081)">b</i>
<i class="t" style="left:2246.0px;top:1429.9px;font-size:59px;transform:scaleX(1.034)">e</i>
<i class="t" style="left:429.0px;top:1484.5px;font-size:59px;transform:scaleX(1.052)">o</i>
<i class="t" style="left:463.5px;top:1484.5px;font-size:59px;transform:scaleX(1.080)">b</i>
<i class="t" style="left:499.0px;top:1484.5px;font-size:59px;transform:scaleX(1.005)">s</i>
<i class="t" style="left:528.6px;top:1484.5px;font-size:59px;transform:scaleX(1.033)">e</i>
<i class="t" style="left:563.7px;top:1484.5px;font-size:59px;transform:scaleX(1.120)">r</i>
<i class="t" style="left:587.1px;top:1484.5px;font-size:59px;transform:scaleX(1.120)">v</i>
<i class="t" style="left:620.5px;top:1484.5px;font-size:59px;transform:scaleX(1.033)">e</i>
<i class="t" style="left:654.4px;top:1484.5px;font-size:59px;transform:scaleX(1.080)">d</i>
<svg class="h" style="left:180px;top:521.8px" width="60" height="50" viewBox="0 0 60 50"><g stroke="#8a2c3e" stroke-width="3" stroke-linecap="round"><line x1="8.7" y1="45" x2="51.7" y2="2.3"/><line x1="23.5" y1="45" x2="51.7" y2="17.5"/><line x1="37.6" y1="45" x2="51.7" y2="31.6"/></g></svg>
<svg class="h" style="left:180px;top:914.8px" width="60" height="50" viewBox="0 0 60 50"><g stroke="#8a2c3e" stroke-width="3" stroke-linecap="round"><line x1="8.7" y1="45" x2="51.7" y2="2.3"/><line x1="23.5" y1="45" x2="51.7" y2="17.5"/><line x1="37.6" y1="45" x2="51.7" y2="31.6"/></g></svg>
<svg class="h" style="left:180px;top:1037.6px" width="60" height="50" viewBox="0 0 60 50"><g stroke="#8a2c3e" stroke-width="3" stroke-linecap="round"><line x1="8.7" y1="45" x2="51.7" y2="2.3"/><line x1="23.5" y1="45" x2="51.7" y2="17.5"/><line x1="37.6" y1="45" x2="51.7" y2="31.6"/></g></svg>
<div class="d" style="left:316.6px;top:697.6px;width:30.6px;height:30.6px"></div>
<div class="d" style="left:316.6px;top:805.0px;width:30.6px;height:30.6px"></div>
<div class="d" style="left:317.8px;top:1160.5px;width:35.0px;height:35.0px"></div>
<div class="d" style="left:317.8px;top:1228.3px;width:35.0px;height:35.0px"></div>
<div class="d" style="left:317.8px;top:1296.7px;width:35.0px;height:35.0px"></div>
<div class="d" style="left:317.8px;top:1365.0px;width:35.0px;height:35.0px"></div>
<div class="d" style="left:317.8px;top:1433.4px;width:35.0px;height:35.0px"></div>
<div class="r" style="left:1942px;top:1344px;width:85.4px;height:85.5px;background:#a1b0c0"></div>
<svg class="r" style="left:1942px;top:1344px" width="86" height="86" viewBox="0 0 86 86"><polygon points="10.8,11.5 10.8,73.9 73.5,42.7" fill="#636e78"/></svg>
</div></body></html>
